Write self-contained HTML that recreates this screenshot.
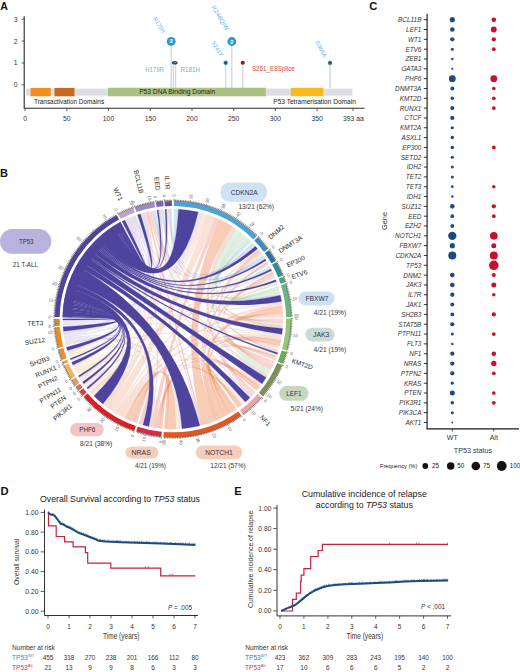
<!DOCTYPE html>
<html><head><meta charset="utf-8"><style>
html,body{margin:0;padding:0;background:#fff;}
svg{display:block;}
text{font-family:"Liberation Sans",sans-serif;}
</style></head><body>
<svg width="520" height="672" viewBox="0 0 520 672">
<text x="0.2" y="9.9" font-size="10.6" font-weight="bold" fill="#111">A</text>
<path d="M24.2 16.2 V108.3 H364.5" fill="none" stroke="#2a2a2a" stroke-width="1.1"/>
<line x1="21.6" y1="19.2" x2="24.2" y2="19.2" stroke="#333" stroke-width="0.8"/>
<text x="17.6" y="21.599999999999998" font-size="6.8" fill="#333" text-anchor="end">3</text>
<line x1="21.6" y1="41.1" x2="24.2" y2="41.1" stroke="#333" stroke-width="0.8"/>
<text x="17.6" y="43.5" font-size="6.8" fill="#333" text-anchor="end">2</text>
<line x1="21.6" y1="63.0" x2="24.2" y2="63.0" stroke="#333" stroke-width="0.8"/>
<text x="17.6" y="65.4" font-size="6.8" fill="#333" text-anchor="end">1</text>
<line x1="21.6" y1="84.8" x2="24.2" y2="84.8" stroke="#333" stroke-width="0.8"/>
<text x="17.6" y="87.2" font-size="6.8" fill="#333" text-anchor="end">0</text>
<line x1="25.1" y1="108.3" x2="25.1" y2="111" stroke="#333" stroke-width="0.8"/>
<text x="25.1" y="120.5" font-size="6.8" fill="#333" text-anchor="middle">0</text>
<line x1="66.8" y1="108.3" x2="66.8" y2="111" stroke="#333" stroke-width="0.8"/>
<text x="66.8" y="120.5" font-size="6.8" fill="#333" text-anchor="middle">50</text>
<line x1="108.5" y1="108.3" x2="108.5" y2="111" stroke="#333" stroke-width="0.8"/>
<text x="108.5" y="120.5" font-size="6.8" fill="#333" text-anchor="middle">100</text>
<line x1="150.3" y1="108.3" x2="150.3" y2="111" stroke="#333" stroke-width="0.8"/>
<text x="150.3" y="120.5" font-size="6.8" fill="#333" text-anchor="middle">150</text>
<line x1="192.0" y1="108.3" x2="192.0" y2="111" stroke="#333" stroke-width="0.8"/>
<text x="192.0" y="120.5" font-size="6.8" fill="#333" text-anchor="middle">200</text>
<line x1="233.7" y1="108.3" x2="233.7" y2="111" stroke="#333" stroke-width="0.8"/>
<text x="233.7" y="120.5" font-size="6.8" fill="#333" text-anchor="middle">250</text>
<line x1="275.4" y1="108.3" x2="275.4" y2="111" stroke="#333" stroke-width="0.8"/>
<text x="275.4" y="120.5" font-size="6.8" fill="#333" text-anchor="middle">300</text>
<line x1="317.1" y1="108.3" x2="317.1" y2="111" stroke="#333" stroke-width="0.8"/>
<text x="317.1" y="120.5" font-size="6.8" fill="#333" text-anchor="middle">350</text>
<line x1="353.0" y1="108.3" x2="353.0" y2="111" stroke="#333" stroke-width="0.8"/>
<text x="343.0" y="120.5" font-size="6.8" fill="#333">393 aa</text>
<line x1="171.2" y1="45" x2="171.2" y2="88" stroke="#d4d4dc" stroke-width="1.3"/>
<line x1="173.4" y1="64" x2="173.4" y2="88" stroke="#d4d4dc" stroke-width="1.3"/>
<line x1="175.6" y1="64" x2="175.6" y2="88" stroke="#d4d4dc" stroke-width="1.3"/>
<line x1="225.7" y1="64" x2="225.7" y2="88" stroke="#d4d4dc" stroke-width="1.3"/>
<line x1="231.8" y1="45" x2="231.8" y2="88" stroke="#d4d4dc" stroke-width="1.3"/>
<line x1="242.75" y1="64" x2="242.75" y2="88" stroke="#d4d4dc" stroke-width="1.3"/>
<line x1="330" y1="64" x2="330" y2="88" stroke="#d4d4dc" stroke-width="1.3"/>
<rect x="26" y="88.6" width="326.5" height="7" fill="#dddde3"/>
<rect x="30.6" y="87.9" width="20.1" height="8.4" fill="#f28e1c"/>
<rect x="54.5" y="87.9" width="20" height="8.4" fill="#c8681e"/>
<rect x="108" y="87.7" width="157.8" height="8.6" fill="#a9c282"/>
<rect x="290.8" y="87.8" width="32.5" height="8.4" fill="#f7b91e"/>
<text x="139.2" y="94.0" font-size="6.65" fill="#222">P53 DNA Binding Domain</text>
<text x="34" y="104.3" font-size="6.4" fill="#222">Transactivation Domains</text>
<text x="273.3" y="104.3" font-size="6.55" fill="#222">P53 Tetramerisation Domain</text>
<circle cx="171.2" cy="41.4" r="4.4" fill="#2196d0"/>
<circle cx="170.79999999999998" cy="41.0" r="2.6" fill="#3aa8dc" opacity="0.7"/>
<text x="171.2" y="43.4" font-size="5.6" fill="#fff" text-anchor="middle" font-weight="bold">2</text>
<circle cx="231.8" cy="41.5" r="4.4" fill="#2196d0"/>
<circle cx="231.4" cy="41.1" r="2.6" fill="#3aa8dc" opacity="0.7"/>
<text x="231.8" y="43.5" font-size="5.6" fill="#fff" text-anchor="middle" font-weight="bold">2</text>
<ellipse cx="174.8" cy="62.8" rx="2.9" ry="1.8" fill="#22506e"/>
<ellipse cx="175.2" cy="62.6" rx="1.2" ry="0.7" fill="#5c8fb0"/>
<circle cx="225.7" cy="62.8" r="2.1" fill="#2a5672" stroke="#7fbde0" stroke-width="0.5"/>
<circle cx="242.75" cy="62.75" r="2.1" fill="#8a1c1e"/>
<circle cx="330" cy="62.9" r="2.1" fill="#2a5672" stroke="#7fbde0" stroke-width="0.5"/>
<text x="145.25" y="71.6" font-size="6.5" fill="#66b8dc" textLength="18.5" lengthAdjust="spacingAndGlyphs">H179R</text>
<text x="180.6" y="71.6" font-size="6.5" fill="#80acd0" textLength="19.4" lengthAdjust="spacingAndGlyphs">R181H</text>
<text x="251.9" y="70.6" font-size="6.6" fill="#dc4646" textLength="42.9" lengthAdjust="spacingAndGlyphs">S261_E8Splice</text>
<text transform="translate(152.7,18.7) rotate(57)" font-size="5.8" fill="#5ab0de" textLength="17.5" lengthAdjust="spacingAndGlyphs">R175H</text>
<text transform="translate(211.3,7.0) rotate(59)" font-size="5.8" fill="#5ab0de" textLength="28" lengthAdjust="spacingAndGlyphs">R248Q/W</text>
<text transform="translate(211.3,42.8) rotate(57)" font-size="5.8" fill="#5ab0de" textLength="16.8" lengthAdjust="spacingAndGlyphs">S241Y</text>
<text transform="translate(315,42) rotate(61)" font-size="5.8" fill="#5ab0de" textLength="18" lengthAdjust="spacingAndGlyphs">S366A</text>
<text x="369.3" y="10.1" font-size="11.2" font-weight="bold" fill="#111">C</text>
<line x1="427.1" y1="13.8" x2="427.1" y2="429" stroke="#111" stroke-width="1.1"/>
<line x1="426.4" y1="428.8" x2="519" y2="428.8" stroke="#1a1a1a" stroke-width="1.2"/>
<line x1="452.3" y1="428.7" x2="452.3" y2="431.5" stroke="#222" stroke-width="0.8"/>
<line x1="493.8" y1="428.7" x2="493.8" y2="431.5" stroke="#222" stroke-width="0.8"/>
<line x1="423.8" y1="19.70" x2="427" y2="19.70" stroke="#1a1a1a" stroke-width="0.9"/>
<text x="421.4" y="22.10" font-size="6.4" font-style="italic" fill="#333" text-anchor="end">BCL11B</text>
<circle cx="452.3" cy="19.70" r="2.60" fill="#1d4a85"/>
<circle cx="493.8" cy="19.70" r="2.30" fill="#c8102e"/>
<line x1="423.8" y1="29.52" x2="427" y2="29.52" stroke="#1a1a1a" stroke-width="0.9"/>
<text x="421.4" y="31.92" font-size="6.4" font-style="italic" fill="#333" text-anchor="end">LEF1</text>
<circle cx="452.3" cy="29.52" r="2.30" fill="#1d4a85"/>
<circle cx="493.8" cy="29.52" r="2.90" fill="#c8102e"/>
<line x1="423.8" y1="39.35" x2="427" y2="39.35" stroke="#1a1a1a" stroke-width="0.9"/>
<text x="421.4" y="41.75" font-size="6.4" font-style="italic" fill="#333" text-anchor="end">WT1</text>
<circle cx="452.3" cy="39.35" r="2.15" fill="#1d4a85"/>
<circle cx="493.8" cy="39.35" r="2.15" fill="#c8102e"/>
<line x1="423.8" y1="49.17" x2="427" y2="49.17" stroke="#1a1a1a" stroke-width="0.9"/>
<text x="421.4" y="51.57" font-size="6.4" font-style="italic" fill="#333" text-anchor="end">ETV6</text>
<circle cx="452.3" cy="49.17" r="1.50" fill="#1d4a85"/>
<circle cx="493.8" cy="49.17" r="1.85" fill="#c8102e"/>
<line x1="423.8" y1="59.00" x2="427" y2="59.00" stroke="#1a1a1a" stroke-width="0.9"/>
<text x="421.4" y="61.40" font-size="6.4" font-style="italic" fill="#333" text-anchor="end">ZEB1</text>
<circle cx="452.3" cy="59.00" r="1.25" fill="#1d4a85"/>
<line x1="423.8" y1="68.82" x2="427" y2="68.82" stroke="#1a1a1a" stroke-width="0.9"/>
<text x="421.4" y="71.22" font-size="6.4" font-style="italic" fill="#333" text-anchor="end">GATA3</text>
<circle cx="452.3" cy="68.82" r="1.10" fill="#1d4a85"/>
<line x1="423.8" y1="78.64" x2="427" y2="78.64" stroke="#1a1a1a" stroke-width="0.9"/>
<text x="421.4" y="81.04" font-size="6.4" font-style="italic" fill="#333" text-anchor="end">PHF6</text>
<circle cx="452.3" cy="78.64" r="3.40" fill="#1d4a85"/>
<circle cx="493.8" cy="78.64" r="3.40" fill="#c8102e"/>
<line x1="423.8" y1="88.47" x2="427" y2="88.47" stroke="#1a1a1a" stroke-width="0.9"/>
<text x="421.4" y="90.87" font-size="6.4" font-style="italic" fill="#333" text-anchor="end">DNMT3A</text>
<circle cx="452.3" cy="88.47" r="1.95" fill="#1d4a85"/>
<circle cx="493.8" cy="88.47" r="1.80" fill="#c8102e"/>
<line x1="423.8" y1="98.29" x2="427" y2="98.29" stroke="#1a1a1a" stroke-width="0.9"/>
<text x="421.4" y="100.69" font-size="6.4" font-style="italic" fill="#333" text-anchor="end">KMT2D</text>
<circle cx="452.3" cy="98.29" r="1.80" fill="#1d4a85"/>
<circle cx="493.8" cy="98.29" r="1.85" fill="#c8102e"/>
<line x1="423.8" y1="108.12" x2="427" y2="108.12" stroke="#1a1a1a" stroke-width="0.9"/>
<text x="421.4" y="110.52" font-size="6.4" font-style="italic" fill="#333" text-anchor="end">RUNX1</text>
<circle cx="452.3" cy="108.12" r="2.10" fill="#1d4a85"/>
<circle cx="493.8" cy="108.12" r="1.90" fill="#c8102e"/>
<line x1="423.8" y1="117.94" x2="427" y2="117.94" stroke="#1a1a1a" stroke-width="0.9"/>
<text x="421.4" y="120.34" font-size="6.4" font-style="italic" fill="#333" text-anchor="end">CTCF</text>
<circle cx="452.3" cy="117.94" r="2.10" fill="#1d4a85"/>
<line x1="423.8" y1="127.76" x2="427" y2="127.76" stroke="#1a1a1a" stroke-width="0.9"/>
<text x="421.4" y="130.16" font-size="6.4" font-style="italic" fill="#333" text-anchor="end">KMT2A</text>
<circle cx="452.3" cy="127.76" r="1.60" fill="#1d4a85"/>
<line x1="423.8" y1="137.59" x2="427" y2="137.59" stroke="#1a1a1a" stroke-width="0.9"/>
<text x="421.4" y="139.99" font-size="6.4" font-style="italic" fill="#333" text-anchor="end">ASXL1</text>
<circle cx="452.3" cy="137.59" r="1.75" fill="#1d4a85"/>
<line x1="423.8" y1="147.41" x2="427" y2="147.41" stroke="#1a1a1a" stroke-width="0.9"/>
<text x="421.4" y="149.81" font-size="6.4" font-style="italic" fill="#333" text-anchor="end">EP300</text>
<circle cx="452.3" cy="147.41" r="1.75" fill="#1d4a85"/>
<circle cx="493.8" cy="147.41" r="1.85" fill="#c8102e"/>
<line x1="423.8" y1="157.24" x2="427" y2="157.24" stroke="#1a1a1a" stroke-width="0.9"/>
<text x="421.4" y="159.64" font-size="6.4" font-style="italic" fill="#333" text-anchor="end">SETD2</text>
<circle cx="452.3" cy="157.24" r="1.60" fill="#1d4a85"/>
<line x1="423.8" y1="167.06" x2="427" y2="167.06" stroke="#1a1a1a" stroke-width="0.9"/>
<text x="421.4" y="169.46" font-size="6.4" font-style="italic" fill="#333" text-anchor="end">IDH2</text>
<circle cx="452.3" cy="167.06" r="1.50" fill="#1d4a85"/>
<line x1="423.8" y1="176.88" x2="427" y2="176.88" stroke="#1a1a1a" stroke-width="0.9"/>
<text x="421.4" y="179.28" font-size="6.4" font-style="italic" fill="#333" text-anchor="end">TET2</text>
<circle cx="452.3" cy="176.88" r="1.50" fill="#1d4a85"/>
<line x1="423.8" y1="186.71" x2="427" y2="186.71" stroke="#1a1a1a" stroke-width="0.9"/>
<text x="421.4" y="189.11" font-size="6.4" font-style="italic" fill="#333" text-anchor="end">TET3</text>
<circle cx="452.3" cy="186.71" r="1.35" fill="#1d4a85"/>
<circle cx="493.8" cy="186.71" r="1.75" fill="#c8102e"/>
<line x1="423.8" y1="196.53" x2="427" y2="196.53" stroke="#1a1a1a" stroke-width="0.9"/>
<text x="421.4" y="198.93" font-size="6.4" font-style="italic" fill="#333" text-anchor="end">IDH1</text>
<circle cx="452.3" cy="196.53" r="1.25" fill="#1d4a85"/>
<line x1="423.8" y1="206.36" x2="427" y2="206.36" stroke="#1a1a1a" stroke-width="0.9"/>
<text x="421.4" y="208.76" font-size="6.4" font-style="italic" fill="#333" text-anchor="end">SUZ12</text>
<circle cx="452.3" cy="206.36" r="2.30" fill="#1d4a85"/>
<circle cx="493.8" cy="206.36" r="2.15" fill="#c8102e"/>
<line x1="423.8" y1="216.18" x2="427" y2="216.18" stroke="#1a1a1a" stroke-width="0.9"/>
<text x="421.4" y="218.58" font-size="6.4" font-style="italic" fill="#333" text-anchor="end">EED</text>
<circle cx="452.3" cy="216.18" r="1.85" fill="#1d4a85"/>
<circle cx="493.8" cy="216.18" r="1.85" fill="#c8102e"/>
<line x1="423.8" y1="226.00" x2="427" y2="226.00" stroke="#1a1a1a" stroke-width="0.9"/>
<text x="421.4" y="228.40" font-size="6.4" font-style="italic" fill="#333" text-anchor="end">EZH2</text>
<circle cx="452.3" cy="226.00" r="1.90" fill="#1d4a85"/>
<line x1="423.8" y1="235.83" x2="427" y2="235.83" stroke="#1a1a1a" stroke-width="0.9"/>
<text x="421.4" y="238.23" font-size="6.4" font-style="italic" fill="#333" text-anchor="end">NOTCH1</text>
<circle cx="452.3" cy="235.83" r="4.15" fill="#1d4a85"/>
<circle cx="493.8" cy="235.83" r="3.85" fill="#c8102e"/>
<line x1="423.8" y1="245.65" x2="427" y2="245.65" stroke="#1a1a1a" stroke-width="0.9"/>
<text x="421.4" y="248.05" font-size="6.4" font-style="italic" fill="#333" text-anchor="end">FBXW7</text>
<circle cx="452.3" cy="245.65" r="2.60" fill="#1d4a85"/>
<circle cx="493.8" cy="245.65" r="2.50" fill="#c8102e"/>
<line x1="423.8" y1="255.48" x2="427" y2="255.48" stroke="#1a1a1a" stroke-width="0.9"/>
<text x="421.4" y="257.88" font-size="6.4" font-style="italic" fill="#333" text-anchor="end">CDKN2A</text>
<circle cx="452.3" cy="255.48" r="4.00" fill="#1d4a85"/>
<circle cx="493.8" cy="255.48" r="4.00" fill="#c8102e"/>
<line x1="423.8" y1="265.30" x2="427" y2="265.30" stroke="#1a1a1a" stroke-width="0.9"/>
<text x="421.4" y="267.70" font-size="6.4" font-style="italic" fill="#333" text-anchor="end">TP53</text>
<circle cx="493.8" cy="265.30" r="4.75" fill="#c8102e"/>
<line x1="423.8" y1="275.12" x2="427" y2="275.12" stroke="#1a1a1a" stroke-width="0.9"/>
<text x="421.4" y="277.52" font-size="6.4" font-style="italic" fill="#333" text-anchor="end">DNM2</text>
<circle cx="452.3" cy="275.12" r="2.30" fill="#1d4a85"/>
<circle cx="493.8" cy="275.12" r="2.00" fill="#c8102e"/>
<line x1="423.8" y1="284.95" x2="427" y2="284.95" stroke="#1a1a1a" stroke-width="0.9"/>
<text x="421.4" y="287.35" font-size="6.4" font-style="italic" fill="#333" text-anchor="end">JAK3</text>
<circle cx="452.3" cy="284.95" r="2.30" fill="#1d4a85"/>
<circle cx="493.8" cy="284.95" r="2.50" fill="#c8102e"/>
<line x1="423.8" y1="294.77" x2="427" y2="294.77" stroke="#1a1a1a" stroke-width="0.9"/>
<text x="421.4" y="297.17" font-size="6.4" font-style="italic" fill="#333" text-anchor="end">IL7R</text>
<circle cx="452.3" cy="294.77" r="2.15" fill="#1d4a85"/>
<circle cx="493.8" cy="294.77" r="1.75" fill="#c8102e"/>
<line x1="423.8" y1="304.60" x2="427" y2="304.60" stroke="#1a1a1a" stroke-width="0.9"/>
<text x="421.4" y="307.00" font-size="6.4" font-style="italic" fill="#333" text-anchor="end">JAK1</text>
<circle cx="452.3" cy="304.60" r="2.00" fill="#1d4a85"/>
<line x1="423.8" y1="314.42" x2="427" y2="314.42" stroke="#1a1a1a" stroke-width="0.9"/>
<text x="421.4" y="316.82" font-size="6.4" font-style="italic" fill="#333" text-anchor="end">SH2B3</text>
<circle cx="452.3" cy="314.42" r="1.90" fill="#1d4a85"/>
<circle cx="493.8" cy="314.42" r="2.15" fill="#c8102e"/>
<line x1="423.8" y1="324.24" x2="427" y2="324.24" stroke="#1a1a1a" stroke-width="0.9"/>
<text x="421.4" y="326.64" font-size="6.4" font-style="italic" fill="#333" text-anchor="end">STAT5B</text>
<circle cx="452.3" cy="324.24" r="2.10" fill="#1d4a85"/>
<line x1="423.8" y1="334.07" x2="427" y2="334.07" stroke="#1a1a1a" stroke-width="0.9"/>
<text x="421.4" y="336.47" font-size="6.4" font-style="italic" fill="#333" text-anchor="end">PTPN11</text>
<circle cx="452.3" cy="334.07" r="1.50" fill="#1d4a85"/>
<circle cx="493.8" cy="334.07" r="1.90" fill="#c8102e"/>
<line x1="423.8" y1="343.89" x2="427" y2="343.89" stroke="#1a1a1a" stroke-width="0.9"/>
<text x="421.4" y="346.29" font-size="6.4" font-style="italic" fill="#333" text-anchor="end">FLT3</text>
<circle cx="452.3" cy="343.89" r="1.25" fill="#1d4a85"/>
<line x1="423.8" y1="353.72" x2="427" y2="353.72" stroke="#1a1a1a" stroke-width="0.9"/>
<text x="421.4" y="356.12" font-size="6.4" font-style="italic" fill="#333" text-anchor="end">NF1</text>
<circle cx="452.3" cy="353.72" r="2.15" fill="#1d4a85"/>
<circle cx="493.8" cy="353.72" r="2.30" fill="#c8102e"/>
<line x1="423.8" y1="363.54" x2="427" y2="363.54" stroke="#1a1a1a" stroke-width="0.9"/>
<text x="421.4" y="365.94" font-size="6.4" font-style="italic" fill="#333" text-anchor="end">NRAS</text>
<circle cx="452.3" cy="363.54" r="2.15" fill="#1d4a85"/>
<circle cx="493.8" cy="363.54" r="2.70" fill="#c8102e"/>
<line x1="423.8" y1="373.36" x2="427" y2="373.36" stroke="#1a1a1a" stroke-width="0.9"/>
<text x="421.4" y="375.76" font-size="6.4" font-style="italic" fill="#333" text-anchor="end">PTPN2</text>
<circle cx="452.3" cy="373.36" r="2.15" fill="#1d4a85"/>
<circle cx="493.8" cy="373.36" r="1.85" fill="#c8102e"/>
<line x1="423.8" y1="383.19" x2="427" y2="383.19" stroke="#1a1a1a" stroke-width="0.9"/>
<text x="421.4" y="385.59" font-size="6.4" font-style="italic" fill="#333" text-anchor="end">KRAS</text>
<circle cx="452.3" cy="383.19" r="1.60" fill="#1d4a85"/>
<line x1="423.8" y1="393.01" x2="427" y2="393.01" stroke="#1a1a1a" stroke-width="0.9"/>
<text x="421.4" y="395.41" font-size="6.4" font-style="italic" fill="#333" text-anchor="end">PTEN</text>
<circle cx="452.3" cy="393.01" r="2.50" fill="#1d4a85"/>
<circle cx="493.8" cy="393.01" r="1.85" fill="#c8102e"/>
<line x1="423.8" y1="402.84" x2="427" y2="402.84" stroke="#1a1a1a" stroke-width="0.9"/>
<text x="421.4" y="405.24" font-size="6.4" font-style="italic" fill="#333" text-anchor="end">PIK3R1</text>
<circle cx="452.3" cy="402.84" r="1.75" fill="#1d4a85"/>
<circle cx="493.8" cy="402.84" r="1.90" fill="#c8102e"/>
<line x1="423.8" y1="412.66" x2="427" y2="412.66" stroke="#1a1a1a" stroke-width="0.9"/>
<text x="421.4" y="415.06" font-size="6.4" font-style="italic" fill="#333" text-anchor="end">PIK3CA</text>
<circle cx="452.3" cy="412.66" r="1.50" fill="#1d4a85"/>
<line x1="423.8" y1="422.48" x2="427" y2="422.48" stroke="#1a1a1a" stroke-width="0.9"/>
<text x="421.4" y="424.88" font-size="6.4" font-style="italic" fill="#333" text-anchor="end">AKT1</text>
<circle cx="452.3" cy="422.48" r="0.90" fill="#1d4a85"/>
<text x="452.3" y="440" font-size="7" fill="#333" text-anchor="middle">WT</text>
<text x="493.8" y="440" font-size="7" fill="#333" text-anchor="middle">Alt</text>
<text x="473" y="452.5" font-size="7.2" fill="#333" text-anchor="middle">TP53 status</text>
<text transform="translate(387,221) rotate(-90)" font-size="7.4" fill="#333" text-anchor="middle">Gene</text>
<text x="380" y="468.3" font-size="5.7" fill="#222">Frequency (%)</text>
<circle cx="425.3" cy="466" r="2.9" fill="#111"/>
<text x="432" y="468.3" font-size="6.3" fill="#222">25</text>
<circle cx="450.7" cy="466" r="3.75" fill="#111"/>
<text x="457.3" y="468.3" font-size="6.3" fill="#222">50</text>
<circle cx="475.8" cy="466" r="4.3" fill="#111"/>
<text x="483" y="468.3" font-size="6.3" fill="#222">75</text>
<circle cx="501.7" cy="466" r="4.9" fill="#111"/>
<text x="509.8" y="468.3" font-size="6.3" fill="#222">100</text>
<text x="0" y="176.9" font-size="11" font-weight="bold" fill="#111">B</text>
<path d="M219.95,219.56A110.1,110.1 0 0 1 232.06,226.24Q172.90,319.10 215.53,420.61A110.1,110.1 0 0 1 202.77,425.07Q172.90,319.10 219.95,219.56Z" fill="#e8743a" fill-opacity="0.36" stroke="#e8743a" stroke-opacity="0.22" stroke-width="0.3"/>
<path d="M176.09,429.15A110.1,110.1 0 0 1 167.07,429.05Q172.90,319.10 134.04,422.11A110.1,110.1 0 0 1 125.72,418.58Q172.90,319.10 176.09,429.15Z" fill="#e8743a" fill-opacity="0.36" stroke="#e8743a" stroke-opacity="0.22" stroke-width="0.3"/>
<path d="M282.24,306.18A110.1,110.1 0 0 1 282.80,312.46Q172.90,319.10 225.03,416.08A110.1,110.1 0 0 1 219.66,418.78Q172.90,319.10 282.24,306.18Z" fill="#e8743a" fill-opacity="0.36" stroke="#e8743a" stroke-opacity="0.22" stroke-width="0.3"/>
<path d="M280.73,341.36A110.1,110.1 0 0 1 279.77,345.56Q172.90,319.10 228.96,413.86A110.1,110.1 0 0 1 225.03,416.08Q172.90,319.10 280.73,341.36Z" fill="#e8743a" fill-opacity="0.36" stroke="#e8743a" stroke-opacity="0.22" stroke-width="0.3"/>
<path d="M259.33,387.30A110.1,110.1 0 0 1 256.50,390.75Q172.90,319.10 234.04,410.66A110.1,110.1 0 0 1 230.24,413.09Q172.90,319.10 259.33,387.30Z" fill="#e8743a" fill-opacity="0.36" stroke="#e8743a" stroke-opacity="0.22" stroke-width="0.3"/>
<path d="M240.57,405.95A110.1,110.1 0 0 1 238.08,407.83Q172.90,319.10 236.52,408.96A110.1,110.1 0 0 1 234.04,410.66Q172.90,319.10 240.57,405.95Z" fill="#e8743a" fill-opacity="0.36" stroke="#e8743a" stroke-opacity="0.22" stroke-width="0.3"/>
<path d="M167.07,429.05A110.1,110.1 0 0 1 164.07,428.85Q172.90,319.10 162.16,428.67A110.1,110.1 0 0 1 159.17,428.34Q172.90,319.10 167.07,429.05Z" fill="#e8743a" fill-opacity="0.36" stroke="#e8743a" stroke-opacity="0.22" stroke-width="0.3"/>
<path d="M182.09,428.82A110.1,110.1 0 0 1 179.09,429.03Q172.90,319.10 65.39,342.86A110.1,110.1 0 0 1 64.79,339.96Q172.90,319.10 182.09,428.82Z" fill="#c4b4dc" fill-opacity="0.3" stroke="#c4b4dc" stroke-opacity="0.22" stroke-width="0.3"/>
<path d="M177.59,429.10A110.1,110.1 0 0 1 176.09,429.15Q172.90,319.10 77.07,373.32A110.1,110.1 0 0 1 76.33,371.97Q172.90,319.10 177.59,429.10Z" fill="#f0c070" fill-opacity="0.22" stroke="#f0c070" stroke-opacity="0.22" stroke-width="0.3"/>
<path d="M179.09,429.03A110.1,110.1 0 0 1 177.59,429.10Q172.90,319.10 69.57,357.12A110.1,110.1 0 0 1 68.99,355.49Q172.90,319.10 179.09,429.03Z" fill="#f0b070" fill-opacity="0.22" stroke="#f0b070" stroke-opacity="0.22" stroke-width="0.3"/>
<path d="M258.54,249.91A110.1,110.1 0 0 1 259.55,251.18Q172.90,319.10 216.92,420.02A110.1,110.1 0 0 1 215.53,420.61Q172.90,319.10 258.54,249.91Z" fill="#e8743a" fill-opacity="0.36" stroke="#e8743a" stroke-opacity="0.22" stroke-width="0.3"/>
<path d="M272.48,272.13A110.1,110.1 0 0 1 273.20,273.68Q172.90,319.10 219.66,418.78A110.1,110.1 0 0 1 218.29,419.41Q172.90,319.10 272.48,272.13Z" fill="#e8743a" fill-opacity="0.36" stroke="#e8743a" stroke-opacity="0.22" stroke-width="0.3"/>
<path d="M267.00,261.95A110.1,110.1 0 0 1 267.88,263.41Q172.90,319.10 218.29,419.41A110.1,110.1 0 0 1 216.92,420.02Q172.90,319.10 267.00,261.95Z" fill="#e8743a" fill-opacity="0.36" stroke="#e8743a" stroke-opacity="0.22" stroke-width="0.3"/>
<path d="M276.67,355.90A110.1,110.1 0 0 1 276.10,357.45Q172.90,319.10 230.24,413.09A110.1,110.1 0 0 1 228.96,413.86Q172.90,319.10 276.67,355.90Z" fill="#e8743a" fill-opacity="0.36" stroke="#e8743a" stroke-opacity="0.22" stroke-width="0.3"/>
<path d="M202.77,425.07A110.1,110.1 0 0 1 201.32,425.47Q172.90,319.10 146.45,212.22A110.1,110.1 0 0 1 147.98,211.86Q172.90,319.10 202.77,425.07Z" fill="#e8743a" fill-opacity="0.36" stroke="#e8743a" stroke-opacity="0.22" stroke-width="0.3"/>
<path d="M201.32,425.47A110.1,110.1 0 0 1 199.86,425.85Q172.90,319.10 130.31,217.57A110.1,110.1 0 0 1 131.71,217.00Q172.90,319.10 201.32,425.47Z" fill="#b8a6d6" fill-opacity="0.32" stroke="#b8a6d6" stroke-opacity="0.22" stroke-width="0.3"/>
<path d="M173.86,209.00A110.1,110.1 0 0 1 175.40,209.03Q172.90,319.10 170.56,209.02A110.1,110.1 0 0 1 171.94,209.00Q172.90,319.10 173.86,209.00Z" fill="#7aa8d8" fill-opacity="0.26" stroke="#7aa8d8" stroke-opacity="0.22" stroke-width="0.3"/>
<path d="M175.40,209.03A110.1,110.1 0 0 1 176.93,209.07Q172.90,319.10 162.50,209.49A110.1,110.1 0 0 1 163.88,209.37Q172.90,319.10 175.40,209.03Z" fill="#7aa8d8" fill-opacity="0.26" stroke="#7aa8d8" stroke-opacity="0.22" stroke-width="0.3"/>
<path d="M176.93,209.07A110.1,110.1 0 0 1 178.47,209.14Q172.90,319.10 154.13,210.61A110.1,110.1 0 0 1 155.68,210.36Q172.90,319.10 176.93,209.07Z" fill="#7aa8d8" fill-opacity="0.26" stroke="#7aa8d8" stroke-opacity="0.22" stroke-width="0.3"/>
<path d="M198.23,211.95A110.1,110.1 0 0 1 199.72,212.32Q172.90,319.10 62.83,321.48A110.1,110.1 0 0 1 62.80,320.10Q172.90,319.10 198.23,211.95Z" fill="#c4b4dc" fill-opacity="0.3" stroke="#c4b4dc" stroke-opacity="0.22" stroke-width="0.3"/>
<path d="M199.72,212.32A110.1,110.1 0 0 1 202.69,213.11Q172.90,319.10 64.27,337.05A110.1,110.1 0 0 1 63.83,334.13Q172.90,319.10 199.72,212.32Z" fill="#c4b4dc" fill-opacity="0.3" stroke="#c4b4dc" stroke-opacity="0.22" stroke-width="0.3"/>
<path d="M202.69,213.11A110.1,110.1 0 0 1 204.17,213.53Q172.90,319.10 68.43,353.85A110.1,110.1 0 0 1 67.90,352.21Q172.90,319.10 202.69,213.11Z" fill="#f0b070" fill-opacity="0.22" stroke="#f0b070" stroke-opacity="0.22" stroke-width="0.3"/>
<path d="M204.17,213.53A110.1,110.1 0 0 1 205.64,213.98Q172.90,319.10 74.20,367.88A110.1,110.1 0 0 1 73.53,366.50Q172.90,319.10 204.17,213.53Z" fill="#f0c070" fill-opacity="0.22" stroke="#f0c070" stroke-opacity="0.22" stroke-width="0.3"/>
<path d="M205.64,213.98A110.1,110.1 0 0 1 207.11,214.45Q172.90,319.10 80.96,379.67A110.1,110.1 0 0 1 80.09,378.34Q172.90,319.10 205.64,213.98Z" fill="#eeb080" fill-opacity="0.24" stroke="#eeb080" stroke-opacity="0.22" stroke-width="0.3"/>
<path d="M207.11,214.45A110.1,110.1 0 0 1 215.74,217.68Q172.90,319.10 115.13,412.83A110.1,110.1 0 0 1 107.64,407.77Q172.90,319.10 207.11,214.45Z" fill="#ec8c64" fill-opacity="0.25" stroke="#ec8c64" stroke-opacity="0.22" stroke-width="0.3"/>
<path d="M215.74,217.68A110.1,110.1 0 0 1 219.95,219.56Q172.90,319.10 154.72,427.69A110.1,110.1 0 0 1 150.29,426.85Q172.90,319.10 215.74,217.68Z" fill="#e8705a" fill-opacity="0.3" stroke="#e8705a" stroke-opacity="0.22" stroke-width="0.3"/>
<path d="M232.06,226.24A110.1,110.1 0 0 1 235.89,228.80Q172.90,319.10 254.32,393.22A110.1,110.1 0 0 1 251.09,396.62Q172.90,319.10 232.06,226.24Z" fill="#e88a80" fill-opacity="0.3" stroke="#e88a80" stroke-opacity="0.22" stroke-width="0.3"/>
<path d="M235.89,228.80A110.1,110.1 0 0 1 240.84,232.46Q172.90,319.10 270.61,369.84A110.1,110.1 0 0 1 267.73,375.04Q172.90,319.10 235.89,228.80Z" fill="#9ccc9c" fill-opacity="0.3" stroke="#9ccc9c" stroke-opacity="0.22" stroke-width="0.3"/>
<path d="M240.84,232.46A110.1,110.1 0 0 1 242.04,233.42Q172.90,319.10 278.21,351.21A110.1,110.1 0 0 1 277.72,352.78Q172.90,319.10 240.84,232.46Z" fill="#9ccc9c" fill-opacity="0.3" stroke="#9ccc9c" stroke-opacity="0.22" stroke-width="0.3"/>
<path d="M242.04,233.42A110.1,110.1 0 0 1 244.40,235.38Q172.90,319.10 282.94,322.83A110.1,110.1 0 0 1 282.80,325.70Q172.90,319.10 242.04,233.42Z" fill="#9ccc9c" fill-opacity="0.3" stroke="#9ccc9c" stroke-opacity="0.22" stroke-width="0.3"/>
<path d="M244.40,235.38A110.1,110.1 0 0 1 247.85,238.45Q172.90,319.10 278.86,289.20A110.1,110.1 0 0 1 280.05,293.77Q172.90,319.10 244.40,235.38Z" fill="#9ccc9c" fill-opacity="0.3" stroke="#9ccc9c" stroke-opacity="0.22" stroke-width="0.3"/>
<path d="M247.85,238.45A110.1,110.1 0 0 1 248.97,239.50Q172.90,319.10 270.19,267.56A110.1,110.1 0 0 1 270.98,269.07Q172.90,319.10 247.85,238.45Z" fill="#9ccc9c" fill-opacity="0.3" stroke="#9ccc9c" stroke-opacity="0.22" stroke-width="0.3"/>
<path d="M248.97,239.50A110.1,110.1 0 0 1 250.07,240.57Q172.90,319.10 262.31,254.85A110.1,110.1 0 0 1 263.29,256.24Q172.90,319.10 248.97,239.50Z" fill="#7aa8d8" fill-opacity="0.26" stroke="#7aa8d8" stroke-opacity="0.22" stroke-width="0.3"/>
<path d="M250.07,240.57A110.1,110.1 0 0 1 251.16,241.66Q172.90,319.10 252.10,242.62A110.1,110.1 0 0 1 253.22,243.79Q172.90,319.10 250.07,240.57Z" fill="#7aa8d8" fill-opacity="0.26" stroke="#7aa8d8" stroke-opacity="0.22" stroke-width="0.3"/>
<path d="M141.56,424.65A110.1,110.1 0 0 1 138.69,423.75Q172.90,319.10 136.87,423.14A110.1,110.1 0 0 1 134.04,422.11Q172.90,319.10 141.56,424.65Z" fill="#e8705a" fill-opacity="0.3" stroke="#e8705a" stroke-opacity="0.22" stroke-width="0.3"/>
<path d="M243.01,403.99A110.1,110.1 0 0 1 241.80,404.98Q172.90,319.10 125.72,418.58A110.1,110.1 0 0 1 124.36,417.92Q172.90,319.10 243.01,403.99Z" fill="#e88a80" fill-opacity="0.3" stroke="#e88a80" stroke-opacity="0.22" stroke-width="0.3"/>
<path d="M262.02,383.75A110.1,110.1 0 0 1 260.24,386.13Q172.90,319.10 124.36,417.92A110.1,110.1 0 0 1 121.68,416.56Q172.90,319.10 262.02,383.75Z" fill="#ec8c64" fill-opacity="0.25" stroke="#ec8c64" stroke-opacity="0.22" stroke-width="0.3"/>
<path d="M281.52,337.12A110.1,110.1 0 0 1 281.01,339.95Q172.90,319.10 121.68,416.56A110.1,110.1 0 0 1 119.03,415.12Q172.90,319.10 281.52,337.12Z" fill="#ec8c64" fill-opacity="0.25" stroke="#ec8c64" stroke-opacity="0.22" stroke-width="0.3"/>
<path d="M281.82,303.05A110.1,110.1 0 0 1 282.24,306.18Q172.90,319.10 119.03,415.12A110.1,110.1 0 0 1 116.42,413.61Q172.90,319.10 281.82,303.05Z" fill="#ec8c64" fill-opacity="0.25" stroke="#ec8c64" stroke-opacity="0.22" stroke-width="0.3"/>
<path d="M104.05,405.02A110.1,110.1 0 0 1 102.88,404.07Q172.90,319.10 127.52,218.79A110.1,110.1 0 0 1 128.91,218.17Q172.90,319.10 104.05,405.02Z" fill="#b8a6d6" fill-opacity="0.32" stroke="#b8a6d6" stroke-opacity="0.22" stroke-width="0.3"/>
<path d="M105.24,405.95A110.1,110.1 0 0 1 104.05,405.02Q172.90,319.10 144.93,212.61A110.1,110.1 0 0 1 146.45,212.22Q172.90,319.10 105.24,405.95Z" fill="#ec8c64" fill-opacity="0.25" stroke="#ec8c64" stroke-opacity="0.22" stroke-width="0.3"/>
<path d="M106.43,406.87A110.1,110.1 0 0 1 105.24,405.95Q172.90,319.10 159.75,209.79A110.1,110.1 0 0 1 161.12,209.63Q172.90,319.10 106.43,406.87Z" fill="#ec8c64" fill-opacity="0.25" stroke="#ec8c64" stroke-opacity="0.22" stroke-width="0.3"/>
<path d="M107.64,407.77A110.1,110.1 0 0 1 106.43,406.87Q172.90,319.10 166.41,209.19A110.1,110.1 0 0 1 167.79,209.12Q172.90,319.10 107.64,407.77Z" fill="#ec8c64" fill-opacity="0.25" stroke="#ec8c64" stroke-opacity="0.22" stroke-width="0.3"/>
<path d="M257.52,248.66A110.1,110.1 0 0 1 258.54,249.91Q172.90,319.10 116.42,413.61A110.1,110.1 0 0 1 115.13,412.83Q172.90,319.10 257.52,248.66Z" fill="#ec8c64" fill-opacity="0.25" stroke="#ec8c64" stroke-opacity="0.22" stroke-width="0.3"/>
<path d="M94.02,395.91A110.1,110.1 0 0 1 92.97,394.82Q172.90,319.10 66.07,345.74A110.1,110.1 0 0 1 65.72,344.30Q172.90,319.10 94.02,395.91Z" fill="#c4b4dc" fill-opacity="0.3" stroke="#c4b4dc" stroke-opacity="0.22" stroke-width="0.3"/>
<path d="M92.97,394.82A110.1,110.1 0 0 1 91.94,393.72Q172.90,319.10 77.84,374.65A110.1,110.1 0 0 1 77.07,373.32Q172.90,319.10 92.97,394.82Z" fill="#f0c070" fill-opacity="0.22" stroke="#f0c070" stroke-opacity="0.22" stroke-width="0.3"/>
<path d="M90.93,392.61A110.1,110.1 0 0 1 89.93,391.48Q172.90,319.10 88.93,390.31A110.1,110.1 0 0 1 87.86,389.03Q172.90,319.10 90.93,392.61Z" fill="#ec8c64" fill-opacity="0.25" stroke="#ec8c64" stroke-opacity="0.22" stroke-width="0.3"/>
<path d="M91.94,393.72A110.1,110.1 0 0 1 90.93,392.61Q172.90,319.10 85.09,385.51A110.1,110.1 0 0 1 83.77,383.74Q172.90,319.10 91.94,393.72Z" fill="#ec8c64" fill-opacity="0.25" stroke="#ec8c64" stroke-opacity="0.22" stroke-width="0.3"/>
<path d="M241.80,404.98A110.1,110.1 0 0 1 240.57,405.95Q172.90,319.10 159.17,428.34A110.1,110.1 0 0 1 157.68,428.14Q172.90,319.10 241.80,404.98Z" fill="#e8705a" fill-opacity="0.3" stroke="#e8705a" stroke-opacity="0.22" stroke-width="0.3"/>
<path d="M260.24,386.13A110.1,110.1 0 0 1 259.33,387.30Q172.90,319.10 157.68,428.14A110.1,110.1 0 0 1 156.20,427.93Q172.90,319.10 260.24,386.13Z" fill="#e8705a" fill-opacity="0.3" stroke="#e8705a" stroke-opacity="0.22" stroke-width="0.3"/>
<path d="M281.01,339.95A110.1,110.1 0 0 1 280.73,341.36Q172.90,319.10 156.20,427.93A110.1,110.1 0 0 1 154.72,427.69Q172.90,319.10 281.01,339.95Z" fill="#e8705a" fill-opacity="0.3" stroke="#e8705a" stroke-opacity="0.22" stroke-width="0.3"/>
<path d="M150.29,426.85A110.1,110.1 0 0 1 148.82,426.54Q172.90,319.10 128.91,218.17A110.1,110.1 0 0 1 130.31,217.57Q172.90,319.10 150.29,426.85Z" fill="#b8a6d6" fill-opacity="0.32" stroke="#b8a6d6" stroke-opacity="0.22" stroke-width="0.3"/>
<path d="M143.00,425.06A110.1,110.1 0 0 1 141.56,424.65Q172.90,319.10 65.72,344.30A110.1,110.1 0 0 1 65.39,342.86Q172.90,319.10 143.00,425.06Z" fill="#c4b4dc" fill-opacity="0.3" stroke="#c4b4dc" stroke-opacity="0.22" stroke-width="0.3"/>
<path d="M279.77,345.56A110.1,110.1 0 0 1 279.05,348.34Q172.90,319.10 273.81,363.13A110.1,110.1 0 0 1 272.59,365.84Q172.90,319.10 279.77,345.56Z" fill="#ea8a78" fill-opacity="0.3" stroke="#ea8a78" stroke-opacity="0.22" stroke-width="0.3"/>
<path d="M282.80,312.46A110.1,110.1 0 0 1 282.88,314.03Q172.90,319.10 272.59,365.84A110.1,110.1 0 0 1 271.94,367.18Q172.90,319.10 282.80,312.46Z" fill="#ea8a78" fill-opacity="0.3" stroke="#ea8a78" stroke-opacity="0.22" stroke-width="0.3"/>
<path d="M267.73,375.04A110.1,110.1 0 0 1 266.96,376.32Q172.90,319.10 147.98,211.86A110.1,110.1 0 0 1 149.51,211.51Q172.90,319.10 267.73,375.04Z" fill="#ea8a78" fill-opacity="0.3" stroke="#ea8a78" stroke-opacity="0.22" stroke-width="0.3"/>
<path d="M266.96,376.32A110.1,110.1 0 0 1 266.18,377.59Q172.90,319.10 133.12,216.44A110.1,110.1 0 0 1 134.54,215.90Q172.90,319.10 266.96,376.32Z" fill="#b8a6d6" fill-opacity="0.32" stroke="#b8a6d6" stroke-opacity="0.22" stroke-width="0.3"/>
<path d="M273.20,273.68A110.1,110.1 0 0 1 273.89,275.24Q172.90,319.10 271.94,367.18A110.1,110.1 0 0 1 271.29,368.52Q172.90,319.10 273.20,273.68Z" fill="#ea8a78" fill-opacity="0.3" stroke="#ea8a78" stroke-opacity="0.22" stroke-width="0.3"/>
<path d="M259.55,251.18A110.1,110.1 0 0 1 260.55,252.47Q172.90,319.10 271.29,368.52A110.1,110.1 0 0 1 270.61,369.84Q172.90,319.10 259.55,251.18Z" fill="#ea8a78" fill-opacity="0.3" stroke="#ea8a78" stroke-opacity="0.22" stroke-width="0.3"/>
<path d="M275.52,358.99A110.1,110.1 0 0 1 274.91,360.52Q172.90,319.10 274.40,361.77A110.1,110.1 0 0 1 273.81,363.13Q172.90,319.10 275.52,358.99Z" fill="#ea8a78" fill-opacity="0.3" stroke="#ea8a78" stroke-opacity="0.22" stroke-width="0.3"/>
<path d="M282.88,314.03A110.1,110.1 0 0 1 282.98,317.18Q172.90,319.10 283.00,318.52A110.1,110.1 0 0 1 282.98,321.40Q172.90,319.10 282.88,314.03Z" fill="#ea8a78" fill-opacity="0.3" stroke="#ea8a78" stroke-opacity="0.22" stroke-width="0.3"/>
<path d="M260.55,252.47A110.1,110.1 0 0 1 261.52,253.76Q172.90,319.10 282.98,321.40A110.1,110.1 0 0 1 282.94,322.83Q172.90,319.10 260.55,252.47Z" fill="#ea8a78" fill-opacity="0.3" stroke="#ea8a78" stroke-opacity="0.22" stroke-width="0.3"/>
<path d="M282.80,325.70A110.1,110.1 0 0 1 282.71,327.14Q172.90,319.10 167.79,209.12A110.1,110.1 0 0 1 169.17,209.06Q172.90,319.10 282.80,325.70Z" fill="#ea8a78" fill-opacity="0.3" stroke="#ea8a78" stroke-opacity="0.22" stroke-width="0.3"/>
<path d="M282.71,327.14A110.1,110.1 0 0 1 282.59,328.57Q172.90,319.10 149.51,211.51A110.1,110.1 0 0 1 151.04,211.19Q172.90,319.10 282.71,327.14Z" fill="#ea8a78" fill-opacity="0.3" stroke="#ea8a78" stroke-opacity="0.22" stroke-width="0.3"/>
<path d="M281.74,335.70A110.1,110.1 0 0 1 281.52,337.12Q172.90,319.10 68.99,355.49A110.1,110.1 0 0 1 68.43,353.85Q172.90,319.10 281.74,335.70Z" fill="#f0b070" fill-opacity="0.22" stroke="#f0b070" stroke-opacity="0.22" stroke-width="0.3"/>
<path d="M281.95,334.28A110.1,110.1 0 0 1 281.74,335.70Q172.90,319.10 62.92,324.25A110.1,110.1 0 0 1 62.86,322.87Q172.90,319.10 281.95,334.28Z" fill="#c4b4dc" fill-opacity="0.3" stroke="#c4b4dc" stroke-opacity="0.22" stroke-width="0.3"/>
<path d="M280.05,293.77A110.1,110.1 0 0 1 280.40,295.31Q172.90,319.10 151.04,211.19A110.1,110.1 0 0 1 152.58,210.89Q172.90,319.10 280.05,293.77Z" fill="#b0a4d8" fill-opacity="0.3" stroke="#b0a4d8" stroke-opacity="0.22" stroke-width="0.3"/>
<path d="M274.55,276.81A110.1,110.1 0 0 1 275.20,278.39Q172.90,319.10 278.42,287.68A110.1,110.1 0 0 1 278.86,289.20Q172.90,319.10 274.55,276.81Z" fill="#9ccc9c" fill-opacity="0.3" stroke="#9ccc9c" stroke-opacity="0.22" stroke-width="0.3"/>
<path d="M276.94,283.07A110.1,110.1 0 0 1 277.49,284.71Q172.90,319.10 277.96,286.18A110.1,110.1 0 0 1 278.42,287.68Q172.90,319.10 276.94,283.07Z" fill="#9ccc9c" fill-opacity="0.3" stroke="#9ccc9c" stroke-opacity="0.22" stroke-width="0.3"/>
<path d="M281.58,301.50A110.1,110.1 0 0 1 281.82,303.05Q172.90,319.10 62.86,322.87A110.1,110.1 0 0 1 62.83,321.48Q172.90,319.10 281.58,301.50Z" fill="#c4b4dc" fill-opacity="0.3" stroke="#c4b4dc" stroke-opacity="0.22" stroke-width="0.3"/>
<path d="M251.09,396.62A110.1,110.1 0 0 1 249.98,397.72Q172.90,319.10 131.71,217.00A110.1,110.1 0 0 1 133.12,216.44Q172.90,319.10 251.09,396.62Z" fill="#b8a6d6" fill-opacity="0.32" stroke="#b8a6d6" stroke-opacity="0.22" stroke-width="0.3"/>
<path d="M276.10,357.45A110.1,110.1 0 0 1 275.52,358.99Q172.90,319.10 255.36,392.05A110.1,110.1 0 0 1 254.32,393.22Q172.90,319.10 276.10,357.45Z" fill="#e88a80" fill-opacity="0.3" stroke="#e88a80" stroke-opacity="0.22" stroke-width="0.3"/>
<path d="M245.39,401.97A110.1,110.1 0 0 1 244.21,402.99Q172.90,319.10 64.79,339.96A110.1,110.1 0 0 1 64.52,338.51Q172.90,319.10 245.39,401.97Z" fill="#c4b4dc" fill-opacity="0.3" stroke="#c4b4dc" stroke-opacity="0.22" stroke-width="0.3"/>
<path d="M244.21,402.99A110.1,110.1 0 0 1 243.01,403.99Q172.90,319.10 76.33,371.97A110.1,110.1 0 0 1 75.60,370.62Q172.90,319.10 244.21,402.99Z" fill="#f0c070" fill-opacity="0.22" stroke="#f0c070" stroke-opacity="0.22" stroke-width="0.3"/>
<path d="M273.89,275.24A110.1,110.1 0 0 1 274.55,276.81Q172.90,319.10 278.68,349.63A110.1,110.1 0 0 1 278.21,351.21Q172.90,319.10 273.89,275.24Z" fill="#ea8a78" fill-opacity="0.3" stroke="#ea8a78" stroke-opacity="0.22" stroke-width="0.3"/>
<path d="M277.21,354.35A110.1,110.1 0 0 1 276.67,355.90Q172.90,319.10 75.60,370.62A110.1,110.1 0 0 1 74.89,369.26Q172.90,319.10 277.21,354.35Z" fill="#f0c070" fill-opacity="0.22" stroke="#f0c070" stroke-opacity="0.22" stroke-width="0.3"/>
<path d="M253.22,243.79A110.1,110.1 0 0 1 254.32,244.99Q172.90,319.10 161.12,209.63A110.1,110.1 0 0 1 162.50,209.49Q172.90,319.10 253.22,243.79Z" fill="#7aa8d8" fill-opacity="0.26" stroke="#7aa8d8" stroke-opacity="0.22" stroke-width="0.3"/>
<path d="M254.32,244.99A110.1,110.1 0 0 1 255.40,246.19Q172.90,319.10 134.54,215.90A110.1,110.1 0 0 1 135.97,215.38Q172.90,319.10 254.32,244.99Z" fill="#b8a6d6" fill-opacity="0.32" stroke="#b8a6d6" stroke-opacity="0.22" stroke-width="0.3"/>
<path d="M264.25,257.65A110.1,110.1 0 0 1 265.19,259.07Q172.90,319.10 152.58,210.89A110.1,110.1 0 0 1 154.13,210.61Q172.90,319.10 264.25,257.65Z" fill="#7aa8d8" fill-opacity="0.26" stroke="#7aa8d8" stroke-opacity="0.22" stroke-width="0.3"/>
<path d="M267.88,263.41A110.1,110.1 0 0 1 268.73,264.88Q172.90,319.10 269.38,266.06A110.1,110.1 0 0 1 270.19,267.56Q172.90,319.10 267.88,263.41Z" fill="#7aa8d8" fill-opacity="0.26" stroke="#7aa8d8" stroke-opacity="0.22" stroke-width="0.3"/>
<path d="M263.29,256.24A110.1,110.1 0 0 1 264.25,257.65Q172.90,319.10 169.17,209.06A110.1,110.1 0 0 1 170.56,209.02Q172.90,319.10 263.29,256.24Z" fill="#7aa8d8" fill-opacity="0.26" stroke="#7aa8d8" stroke-opacity="0.22" stroke-width="0.3"/>
<path d="M266.11,260.50A110.1,110.1 0 0 1 267.00,261.95Q172.90,319.10 81.84,380.99A110.1,110.1 0 0 1 80.96,379.67Q172.90,319.10 266.11,260.50Z" fill="#eeb080" fill-opacity="0.24" stroke="#eeb080" stroke-opacity="0.22" stroke-width="0.3"/>
<path d="M271.74,270.60A110.1,110.1 0 0 1 272.48,272.13Q172.90,319.10 64.52,338.51A110.1,110.1 0 0 1 64.27,337.05Q172.90,319.10 271.74,270.60Z" fill="#c4b4dc" fill-opacity="0.3" stroke="#c4b4dc" stroke-opacity="0.22" stroke-width="0.3"/>
<path d="M276.36,281.44A110.1,110.1 0 0 1 276.94,283.07Q172.90,319.10 74.89,369.26A110.1,110.1 0 0 1 74.20,367.88Q172.90,319.10 276.36,281.44Z" fill="#f0c070" fill-opacity="0.22" stroke="#f0c070" stroke-opacity="0.22" stroke-width="0.3"/>
<path d="M63.83,334.13A110.1,110.1 0 0 1 63.64,332.66Q172.90,319.10 158.38,209.96A110.1,110.1 0 0 1 159.75,209.79Q172.90,319.10 63.83,334.13Z" fill="#b0a4d8" fill-opacity="0.3" stroke="#b0a4d8" stroke-opacity="0.22" stroke-width="0.3"/>
<path d="M63.64,332.66A110.1,110.1 0 0 1 63.47,331.20Q172.90,319.10 140.40,213.90A110.1,110.1 0 0 1 141.91,213.45Q172.90,319.10 63.64,332.66Z" fill="#b0a4d8" fill-opacity="0.3" stroke="#b0a4d8" stroke-opacity="0.22" stroke-width="0.3"/>
<path d="M67.90,352.21A110.1,110.1 0 0 1 67.39,350.55Q172.90,319.10 124.77,220.08A110.1,110.1 0 0 1 126.14,219.42Q172.90,319.10 67.90,352.21Z" fill="#b8a6d6" fill-opacity="0.32" stroke="#b8a6d6" stroke-opacity="0.22" stroke-width="0.3"/>
<path d="M73.53,366.50A110.1,110.1 0 0 1 72.87,365.11Q172.90,319.10 141.91,213.45A110.1,110.1 0 0 1 143.42,213.02Q172.90,319.10 73.53,366.50Z" fill="#b0a4d8" fill-opacity="0.3" stroke="#b0a4d8" stroke-opacity="0.22" stroke-width="0.3"/>
<path d="M71.11,361.06A110.1,110.1 0 0 1 70.60,359.81Q172.90,319.10 126.14,219.42A110.1,110.1 0 0 1 127.52,218.79Q172.90,319.10 71.11,361.06Z" fill="#b8a6d6" fill-opacity="0.32" stroke="#b8a6d6" stroke-opacity="0.22" stroke-width="0.3"/>
<path d="M80.09,378.34A110.1,110.1 0 0 1 79.25,377.00Q172.90,319.10 143.42,213.02A110.1,110.1 0 0 1 144.93,212.61Q172.90,319.10 80.09,378.34Z" fill="#b0a4d8" fill-opacity="0.3" stroke="#b0a4d8" stroke-opacity="0.22" stroke-width="0.3"/>
<path d="M86.81,387.74A110.1,110.1 0 0 1 85.79,386.43Q172.90,319.10 62.99,325.63A110.1,110.1 0 0 1 62.92,324.25Q172.90,319.10 86.81,387.74Z" fill="#c4b4dc" fill-opacity="0.3" stroke="#c4b4dc" stroke-opacity="0.22" stroke-width="0.3"/>
<path d="M62.62,317.08A110.3,110.3 0 0 1 120.35,222.12L124.74,230.21A101.1,101.1 0 0 0 71.82,317.25Z" fill="#4e449e"/>
<path d="M178.47,209.14A110.1,110.1 0 0 1 198.23,211.95Q172.90,319.10 97.59,238.79A110.1,110.1 0 0 1 112.84,226.83Q172.90,319.10 178.47,209.14Z" fill="#4e449e" stroke="#4e449e" stroke-width="0.25"/>
<path d="M255.40,246.19A110.1,110.1 0 0 1 257.52,248.66Q172.90,319.10 95.44,240.86A110.1,110.1 0 0 1 97.59,238.79Q172.90,319.10 255.40,246.19Z" fill="#4e449e" stroke="#4e449e" stroke-width="0.25"/>
<path d="M265.19,259.07A110.1,110.1 0 0 1 266.11,260.50Q172.90,319.10 94.38,241.92A110.1,110.1 0 0 1 95.44,240.86Q172.90,319.10 265.19,259.07Z" fill="#4e449e" stroke="#4e449e" stroke-width="0.25"/>
<path d="M270.98,269.07A110.1,110.1 0 0 1 271.74,270.60Q172.90,319.10 93.34,242.99A110.1,110.1 0 0 1 94.38,241.92Q172.90,319.10 270.98,269.07Z" fill="#4e449e" stroke="#4e449e" stroke-width="0.25"/>
<path d="M275.76,279.82A110.1,110.1 0 0 1 276.36,281.44Q172.90,319.10 92.32,244.08A110.1,110.1 0 0 1 93.34,242.99Q172.90,319.10 275.76,279.82Z" fill="#4e449e" stroke="#4e449e" stroke-width="0.25"/>
<path d="M280.40,295.31A110.1,110.1 0 0 1 281.58,301.50Q172.90,319.10 88.37,248.56A110.1,110.1 0 0 1 92.32,244.08Q172.90,319.10 280.40,295.31Z" fill="#4e449e" stroke="#4e449e" stroke-width="0.25"/>
<path d="M282.59,328.57A110.1,110.1 0 0 1 281.95,334.28Q172.90,319.10 84.67,253.24A110.1,110.1 0 0 1 88.37,248.56Q172.90,319.10 282.59,328.57Z" fill="#4e449e" stroke="#4e449e" stroke-width="0.25"/>
<path d="M277.72,352.78A110.1,110.1 0 0 1 277.21,354.35Q172.90,319.10 83.78,254.44A110.1,110.1 0 0 1 84.67,253.24Q172.90,319.10 277.72,352.78Z" fill="#4e449e" stroke="#4e449e" stroke-width="0.25"/>
<path d="M266.18,377.59A110.1,110.1 0 0 1 262.02,383.75Q172.90,319.10 79.61,260.63A110.1,110.1 0 0 1 83.78,254.44Q172.90,319.10 266.18,377.59Z" fill="#4e449e" stroke="#4e449e" stroke-width="0.25"/>
<path d="M249.98,397.72A110.1,110.1 0 0 1 245.39,401.97Q172.90,319.10 76.58,265.77A110.1,110.1 0 0 1 79.61,260.63Q172.90,319.10 249.98,397.72Z" fill="#4e449e" stroke="#4e449e" stroke-width="0.25"/>
<path d="M199.86,425.85A110.1,110.1 0 0 1 182.09,428.82Q172.90,319.10 69.21,282.08A110.1,110.1 0 0 1 76.58,265.77Q172.90,319.10 199.86,425.85Z" fill="#4e449e" stroke="#4e449e" stroke-width="0.25"/>
<path d="M148.82,426.54A110.1,110.1 0 0 1 143.00,425.06Q172.90,319.10 67.35,287.76A110.1,110.1 0 0 1 69.21,282.08Q172.90,319.10 148.82,426.54Z" fill="#4e449e" stroke="#4e449e" stroke-width="0.25"/>
<path d="M102.88,404.07A110.1,110.1 0 0 1 94.02,395.91Q172.90,319.10 64.58,299.37A110.1,110.1 0 0 1 67.35,287.76Q172.90,319.10 102.88,404.07Z" fill="#4e449e" stroke="#4e449e" stroke-width="0.25"/>
<path d="M87.86,389.03A110.1,110.1 0 0 1 86.81,387.74Q172.90,319.10 64.32,300.84A110.1,110.1 0 0 1 64.58,299.37Q172.90,319.10 87.86,389.03Z" fill="#4e449e" stroke="#4e449e" stroke-width="0.25"/>
<path d="M83.77,383.74A110.1,110.1 0 0 1 82.49,381.94Q172.90,319.10 64.09,302.31A110.1,110.1 0 0 1 64.32,300.84Q172.90,319.10 83.77,383.74Z" fill="#4e449e" stroke="#4e449e" stroke-width="0.25"/>
<path d="M79.25,377.00A110.1,110.1 0 0 1 78.43,375.64Q172.90,319.10 63.87,303.79A110.1,110.1 0 0 1 64.09,302.31Q172.90,319.10 79.25,377.00Z" fill="#4e449e" stroke="#4e449e" stroke-width="0.25"/>
<path d="M72.87,365.11A110.1,110.1 0 0 1 71.63,362.30Q172.90,319.10 63.49,306.75A110.1,110.1 0 0 1 63.87,303.79Q172.90,319.10 72.87,365.11Z" fill="#4e449e" stroke="#4e449e" stroke-width="0.25"/>
<path d="M70.60,359.81A110.1,110.1 0 0 1 70.11,358.56Q172.90,319.10 63.34,308.24A110.1,110.1 0 0 1 63.49,306.75Q172.90,319.10 70.60,359.81Z" fill="#4e449e" stroke="#4e449e" stroke-width="0.25"/>
<path d="M67.39,350.55A110.1,110.1 0 0 1 66.45,347.22Q172.90,319.10 63.08,311.21A110.1,110.1 0 0 1 63.34,308.24Q172.90,319.10 67.39,350.55Z" fill="#4e449e" stroke="#4e449e" stroke-width="0.25"/>
<path d="M63.47,331.20A110.1,110.1 0 0 1 63.07,326.78Q172.90,319.10 62.85,315.69A110.1,110.1 0 0 1 63.08,311.21Q172.90,319.10 63.47,331.20Z" fill="#4e449e" stroke="#4e449e" stroke-width="0.25"/>
<path d="M62.80,320.10A110.1,110.1 0 0 1 62.80,318.72Q172.90,319.10 62.82,317.18A110.1,110.1 0 0 1 62.85,315.69Q172.90,319.10 62.80,320.10Z" fill="#4e449e" stroke="#4e449e" stroke-width="0.25"/>
<path d="M117.93,223.71A110.1,110.1 0 0 1 120.53,222.25Q172.90,319.10 122.06,221.44A110.1,110.1 0 0 1 124.77,220.08Q172.90,319.10 117.93,223.71Z" fill="#4e449e" stroke="#4e449e" stroke-width="0.25"/>
<path d="M115.36,225.23A110.1,110.1 0 0 1 117.93,223.71Q172.90,319.10 137.42,214.87A110.1,110.1 0 0 1 140.40,213.90Q172.90,319.10 115.36,225.23Z" fill="#4e449e" stroke="#4e449e" stroke-width="0.25"/>
<path d="M114.09,226.02A110.1,110.1 0 0 1 115.36,225.23Q172.90,319.10 157.01,210.15A110.1,110.1 0 0 1 158.38,209.96Q172.90,319.10 114.09,226.02Z" fill="#4e449e" stroke="#4e449e" stroke-width="0.25"/>
<path d="M112.84,226.83A110.1,110.1 0 0 1 114.09,226.02Q172.90,319.10 165.03,209.28A110.1,110.1 0 0 1 166.41,209.19Q172.90,319.10 112.84,226.83Z" fill="#4e449e" stroke="#4e449e" stroke-width="0.25"/>
<path d="M173.93,201.10A118.0,118.0 0 0 1 256.77,236.10L253.36,239.48A113.2,113.2 0 0 0 173.89,205.90Z" fill="#4ea2d3"/>
<path d="M257.78,237.13A118.0,118.0 0 0 1 267.88,249.08L264.01,251.92A113.2,113.2 0 0 0 254.33,240.46Z" fill="#3c8cc4"/>
<path d="M268.73,250.24A118.0,118.0 0 0 1 275.60,260.99L271.42,263.36A113.2,113.2 0 0 0 264.83,253.04Z" fill="#27729f"/>
<path d="M276.30,262.25A118.0,118.0 0 0 1 282.54,275.47L278.08,277.24A113.2,113.2 0 0 0 272.10,264.57Z" fill="#2e8f93"/>
<path d="M283.14,277.00A118.0,118.0 0 0 1 285.00,282.24L280.44,283.74A113.2,113.2 0 0 0 278.65,278.72Z" fill="#48a07c"/>
<path d="M285.50,283.81A118.0,118.0 0 0 1 290.88,317.04L286.08,317.12A113.2,113.2 0 0 0 280.92,285.25Z" fill="#6ab67f"/>
<path d="M290.90,318.48A118.0,118.0 0 0 1 286.66,350.44L282.04,349.16A113.2,113.2 0 0 0 286.10,318.51Z" fill="#92c873"/>
<path d="M286.27,351.82A118.0,118.0 0 0 1 282.23,363.49L277.78,361.69A113.2,113.2 0 0 0 281.66,350.49Z" fill="#68b050"/>
<path d="M281.68,364.83A118.0,118.0 0 0 1 262.49,395.89L258.85,392.77A113.2,113.2 0 0 0 277.25,362.97Z" fill="#7d8f55"/>
<path d="M261.28,397.29A118.0,118.0 0 0 1 242.76,414.20L239.92,410.33A113.2,113.2 0 0 0 257.68,394.11Z" fill="#eba4a4"/>
<path d="M241.09,415.40A118.0,118.0 0 0 1 163.44,436.72L163.82,431.94A113.2,113.2 0 0 0 238.31,411.49Z" fill="#e2571d"/>
<path d="M161.39,436.54A118.0,118.0 0 0 1 136.24,431.26L137.73,426.70A113.2,113.2 0 0 0 161.85,431.76Z" fill="#d72a3e"/>
<path d="M134.29,430.60A118.0,118.0 0 0 1 83.98,396.67L87.60,393.51A113.2,113.2 0 0 0 135.86,426.07Z" fill="#db1f24"/>
<path d="M82.91,395.42A118.0,118.0 0 0 1 79.54,391.26L83.33,388.32A113.2,113.2 0 0 0 86.57,392.32Z" fill="#e3393a"/>
<path d="M78.79,390.28A118.0,118.0 0 0 1 76.00,386.44L79.95,383.70A113.2,113.2 0 0 0 82.61,387.38Z" fill="#cd6d5e"/>
<path d="M75.30,385.43A118.0,118.0 0 0 1 71.65,379.70L75.77,377.23A113.2,113.2 0 0 0 79.27,382.73Z" fill="#e2996f"/>
<path d="M71.02,378.63A118.0,118.0 0 0 1 64.36,365.40L68.78,363.51A113.2,113.2 0 0 0 75.16,376.21Z" fill="#f0b45c"/>
<path d="M63.80,364.07A118.0,118.0 0 0 1 62.74,361.39L67.22,359.67A113.2,113.2 0 0 0 68.24,362.24Z" fill="#e9a236"/>
<path d="M62.16,359.85A118.0,118.0 0 0 1 58.81,349.24L63.46,348.02A113.2,113.2 0 0 0 66.66,358.19Z" fill="#e98e2c"/>
<path d="M58.41,347.65A118.0,118.0 0 0 1 55.19,327.33L59.98,327.00A113.2,113.2 0 0 0 63.06,346.49Z" fill="#ef8a1f"/>
<path d="M55.11,326.10A118.0,118.0 0 0 1 54.90,318.69L59.70,318.70A113.2,113.2 0 0 0 59.90,325.81Z" fill="#e9831f"/>
<path d="M54.92,317.04A118.0,118.0 0 0 1 116.78,215.30L119.06,219.52A113.2,113.2 0 0 0 59.72,317.12Z" fill="#4e449e"/>
<path d="M118.41,214.43A118.0,118.0 0 0 1 133.32,207.94L134.93,212.46A113.2,113.2 0 0 0 120.63,218.69Z" fill="#bba3c9"/>
<path d="M134.87,207.40A118.0,118.0 0 0 1 154.44,202.55L155.19,207.29A113.2,113.2 0 0 0 136.42,211.94Z" fill="#9d8bc6"/>
<path d="M155.87,202.34A118.0,118.0 0 0 1 163.23,201.50L163.62,206.28A113.2,113.2 0 0 0 156.56,207.09Z" fill="#7e62ad"/>
<path d="M164.46,201.40A118.0,118.0 0 0 1 171.87,201.10L171.91,205.90A113.2,113.2 0 0 0 164.81,206.19Z" fill="#6c4f9f"/>
<line x1="173.93" y1="201.10" x2="173.95" y2="198.90" stroke="#222" stroke-width="0.55"/>
<line x1="175.55" y1="201.13" x2="175.59" y2="199.63" stroke="#222" stroke-width="0.55"/>
<line x1="177.17" y1="201.18" x2="177.23" y2="199.68" stroke="#222" stroke-width="0.55"/>
<line x1="178.80" y1="201.25" x2="178.87" y2="199.75" stroke="#222" stroke-width="0.55"/>
<line x1="180.42" y1="201.34" x2="180.51" y2="199.84" stroke="#222" stroke-width="0.55"/>
<line x1="182.03" y1="201.45" x2="182.15" y2="199.96" stroke="#222" stroke-width="0.55"/>
<line x1="183.65" y1="201.59" x2="183.79" y2="200.10" stroke="#222" stroke-width="0.55"/>
<line x1="185.27" y1="201.75" x2="185.42" y2="200.26" stroke="#222" stroke-width="0.55"/>
<line x1="186.88" y1="201.93" x2="187.06" y2="200.44" stroke="#222" stroke-width="0.55"/>
<line x1="188.49" y1="202.13" x2="188.69" y2="200.65" stroke="#222" stroke-width="0.55"/>
<line x1="190.10" y1="202.36" x2="190.42" y2="200.18" stroke="#222" stroke-width="0.55"/>
<line x1="191.70" y1="202.61" x2="191.94" y2="201.13" stroke="#222" stroke-width="0.55"/>
<line x1="193.30" y1="202.88" x2="193.56" y2="201.40" stroke="#222" stroke-width="0.55"/>
<line x1="194.90" y1="203.17" x2="195.18" y2="201.69" stroke="#222" stroke-width="0.55"/>
<line x1="196.49" y1="203.48" x2="196.79" y2="202.01" stroke="#222" stroke-width="0.55"/>
<line x1="198.08" y1="203.82" x2="198.40" y2="202.35" stroke="#222" stroke-width="0.55"/>
<line x1="199.66" y1="204.17" x2="200.00" y2="202.71" stroke="#222" stroke-width="0.55"/>
<line x1="201.24" y1="204.55" x2="201.60" y2="203.10" stroke="#222" stroke-width="0.55"/>
<line x1="202.81" y1="204.95" x2="203.19" y2="203.50" stroke="#222" stroke-width="0.55"/>
<line x1="204.38" y1="205.38" x2="204.78" y2="203.93" stroke="#222" stroke-width="0.55"/>
<line x1="205.94" y1="205.82" x2="206.56" y2="203.71" stroke="#222" stroke-width="0.55"/>
<line x1="207.49" y1="206.28" x2="207.93" y2="204.85" stroke="#222" stroke-width="0.55"/>
<line x1="209.04" y1="206.77" x2="209.50" y2="205.34" stroke="#222" stroke-width="0.55"/>
<line x1="210.58" y1="207.28" x2="211.06" y2="205.86" stroke="#222" stroke-width="0.55"/>
<line x1="212.12" y1="207.81" x2="212.62" y2="206.39" stroke="#222" stroke-width="0.55"/>
<line x1="213.65" y1="208.36" x2="214.16" y2="206.95" stroke="#222" stroke-width="0.55"/>
<line x1="215.16" y1="208.93" x2="215.70" y2="207.53" stroke="#222" stroke-width="0.55"/>
<line x1="216.68" y1="209.52" x2="217.23" y2="208.13" stroke="#222" stroke-width="0.55"/>
<line x1="218.18" y1="210.13" x2="218.75" y2="208.75" stroke="#222" stroke-width="0.55"/>
<line x1="219.67" y1="210.77" x2="220.27" y2="209.39" stroke="#222" stroke-width="0.55"/>
<line x1="221.16" y1="211.42" x2="222.06" y2="209.41" stroke="#222" stroke-width="0.55"/>
<line x1="222.63" y1="212.09" x2="223.27" y2="210.73" stroke="#222" stroke-width="0.55"/>
<line x1="224.10" y1="212.79" x2="224.75" y2="211.44" stroke="#222" stroke-width="0.55"/>
<line x1="225.56" y1="213.50" x2="226.23" y2="212.16" stroke="#222" stroke-width="0.55"/>
<line x1="227.01" y1="214.24" x2="227.69" y2="212.90" stroke="#222" stroke-width="0.55"/>
<line x1="228.44" y1="214.99" x2="229.15" y2="213.67" stroke="#222" stroke-width="0.55"/>
<line x1="229.87" y1="215.76" x2="230.59" y2="214.45" stroke="#222" stroke-width="0.55"/>
<line x1="231.29" y1="216.56" x2="232.03" y2="215.25" stroke="#222" stroke-width="0.55"/>
<line x1="232.69" y1="217.37" x2="233.45" y2="216.08" stroke="#222" stroke-width="0.55"/>
<line x1="234.08" y1="218.20" x2="234.86" y2="216.92" stroke="#222" stroke-width="0.55"/>
<line x1="235.47" y1="219.05" x2="236.63" y2="217.19" stroke="#222" stroke-width="0.55"/>
<line x1="236.84" y1="219.92" x2="237.65" y2="218.66" stroke="#222" stroke-width="0.55"/>
<line x1="238.19" y1="220.81" x2="239.02" y2="219.56" stroke="#222" stroke-width="0.55"/>
<line x1="239.54" y1="221.72" x2="240.39" y2="220.48" stroke="#222" stroke-width="0.55"/>
<line x1="240.87" y1="222.64" x2="241.74" y2="221.42" stroke="#222" stroke-width="0.55"/>
<line x1="242.19" y1="223.59" x2="243.07" y2="222.37" stroke="#222" stroke-width="0.55"/>
<line x1="243.50" y1="224.55" x2="244.40" y2="223.35" stroke="#222" stroke-width="0.55"/>
<line x1="244.79" y1="225.53" x2="245.71" y2="224.34" stroke="#222" stroke-width="0.55"/>
<line x1="246.07" y1="226.53" x2="247.00" y2="225.35" stroke="#222" stroke-width="0.55"/>
<line x1="247.34" y1="227.54" x2="248.29" y2="226.38" stroke="#222" stroke-width="0.55"/>
<line x1="248.59" y1="228.57" x2="250.00" y2="226.89" stroke="#222" stroke-width="0.55"/>
<line x1="249.83" y1="229.62" x2="250.81" y2="228.49" stroke="#222" stroke-width="0.55"/>
<line x1="251.05" y1="230.69" x2="252.05" y2="229.57" stroke="#222" stroke-width="0.55"/>
<line x1="252.26" y1="231.77" x2="253.27" y2="230.66" stroke="#222" stroke-width="0.55"/>
<line x1="253.45" y1="232.87" x2="254.48" y2="231.78" stroke="#222" stroke-width="0.55"/>
<line x1="254.63" y1="233.99" x2="255.67" y2="232.91" stroke="#222" stroke-width="0.55"/>
<line x1="255.80" y1="235.12" x2="256.85" y2="234.05" stroke="#222" stroke-width="0.55"/>
<path d="M173.93,200.90A118.2,118.2 0 0 1 256.92,235.96" fill="none" stroke="#555" stroke-width="0.5"/>
<text transform="translate(173.98,195.60) rotate(-89.5)" font-size="4.4" fill="#5a5a6a" text-anchor="middle" dominant-baseline="central">0</text>
<text transform="translate(190.90,196.92) rotate(-81.6)" font-size="4.4" fill="#5a5a6a" text-anchor="middle" dominant-baseline="central">10</text>
<text transform="translate(207.48,200.54) rotate(-73.7)" font-size="4.4" fill="#5a5a6a" text-anchor="middle" dominant-baseline="central">20</text>
<text transform="translate(223.41,206.40) rotate(-65.9)" font-size="4.4" fill="#5a5a6a" text-anchor="middle" dominant-baseline="central">30</text>
<text transform="translate(238.38,214.39) rotate(-58.0)" font-size="4.4" fill="#5a5a6a" text-anchor="middle" dominant-baseline="central">40</text>
<text transform="translate(252.12,224.36) rotate(-50.1)" font-size="4.4" fill="#5a5a6a" text-anchor="middle" dominant-baseline="central">50</text>
<line x1="257.78" y1="237.13" x2="259.36" y2="235.60" stroke="#222" stroke-width="0.55"/>
<line x1="258.90" y1="238.31" x2="259.99" y2="237.28" stroke="#222" stroke-width="0.55"/>
<line x1="260.00" y1="239.50" x2="261.11" y2="238.48" stroke="#222" stroke-width="0.55"/>
<line x1="261.09" y1="240.70" x2="262.21" y2="239.70" stroke="#222" stroke-width="0.55"/>
<line x1="262.16" y1="241.92" x2="263.30" y2="240.94" stroke="#222" stroke-width="0.55"/>
<line x1="263.21" y1="243.16" x2="264.36" y2="242.19" stroke="#222" stroke-width="0.55"/>
<line x1="264.25" y1="244.41" x2="265.41" y2="243.46" stroke="#222" stroke-width="0.55"/>
<line x1="265.27" y1="245.67" x2="266.44" y2="244.74" stroke="#222" stroke-width="0.55"/>
<line x1="266.27" y1="246.95" x2="267.46" y2="246.03" stroke="#222" stroke-width="0.55"/>
<line x1="267.25" y1="248.24" x2="268.45" y2="247.34" stroke="#222" stroke-width="0.55"/>
<path d="M257.93,236.99A118.2,118.2 0 0 1 268.04,248.96" fill="none" stroke="#555" stroke-width="0.5"/>
<text transform="translate(261.74,233.31) rotate(-44.0)" font-size="4.4" fill="#5a5a6a" text-anchor="middle" dominant-baseline="central">0</text>
<text transform="translate(269.14,237.77) rotate(-40.2)" font-size="6.5" fill="#1e1e1e" dominant-baseline="central">DNM2</text>
<line x1="268.73" y1="250.24" x2="270.51" y2="248.96" stroke="#222" stroke-width="0.55"/>
<line x1="269.66" y1="251.57" x2="270.89" y2="250.71" stroke="#222" stroke-width="0.55"/>
<line x1="270.58" y1="252.90" x2="271.83" y2="252.06" stroke="#222" stroke-width="0.55"/>
<line x1="271.48" y1="254.25" x2="272.74" y2="253.43" stroke="#222" stroke-width="0.55"/>
<line x1="272.37" y1="255.62" x2="273.63" y2="254.81" stroke="#222" stroke-width="0.55"/>
<line x1="273.23" y1="256.99" x2="274.51" y2="256.20" stroke="#222" stroke-width="0.55"/>
<line x1="274.08" y1="258.37" x2="275.36" y2="257.60" stroke="#222" stroke-width="0.55"/>
<line x1="274.90" y1="259.77" x2="276.20" y2="259.02" stroke="#222" stroke-width="0.55"/>
<path d="M268.89,250.13A118.2,118.2 0 0 1 275.78,260.90" fill="none" stroke="#555" stroke-width="0.5"/>
<text transform="translate(273.19,247.03) rotate(-35.7)" font-size="4.4" fill="#5a5a6a" text-anchor="middle" dominant-baseline="central">0</text>
<text transform="translate(279.05,251.21) rotate(-32.6)" font-size="6.5" fill="#1e1e1e" dominant-baseline="central">DNMT3A</text>
<line x1="276.30" y1="262.25" x2="278.23" y2="261.19" stroke="#222" stroke-width="0.55"/>
<line x1="277.08" y1="263.68" x2="278.40" y2="262.98" stroke="#222" stroke-width="0.55"/>
<line x1="277.83" y1="265.12" x2="279.16" y2="264.43" stroke="#222" stroke-width="0.55"/>
<line x1="278.56" y1="266.57" x2="279.90" y2="265.90" stroke="#222" stroke-width="0.55"/>
<line x1="279.27" y1="268.02" x2="280.63" y2="267.38" stroke="#222" stroke-width="0.55"/>
<line x1="279.97" y1="269.49" x2="281.33" y2="268.86" stroke="#222" stroke-width="0.55"/>
<line x1="280.64" y1="270.97" x2="282.01" y2="270.36" stroke="#222" stroke-width="0.55"/>
<line x1="281.29" y1="272.46" x2="282.67" y2="271.86" stroke="#222" stroke-width="0.55"/>
<line x1="281.92" y1="273.95" x2="283.31" y2="273.38" stroke="#222" stroke-width="0.55"/>
<line x1="282.53" y1="275.45" x2="283.93" y2="274.90" stroke="#222" stroke-width="0.55"/>
<path d="M276.48,262.16A118.2,118.2 0 0 1 282.72,275.40" fill="none" stroke="#555" stroke-width="0.5"/>
<text transform="translate(281.12,259.60) rotate(-28.8)" font-size="4.4" fill="#5a5a6a" text-anchor="middle" dominant-baseline="central">0</text>
<text transform="translate(286.86,265.35) rotate(-25.2)" font-size="6.5" fill="#1e1e1e" dominant-baseline="central">EP300</text>
<line x1="283.14" y1="277.00" x2="285.19" y2="276.22" stroke="#222" stroke-width="0.55"/>
<line x1="283.70" y1="278.52" x2="285.11" y2="278.01" stroke="#222" stroke-width="0.55"/>
<line x1="284.25" y1="280.05" x2="285.67" y2="279.56" stroke="#222" stroke-width="0.55"/>
<line x1="284.78" y1="281.59" x2="286.20" y2="281.11" stroke="#222" stroke-width="0.55"/>
<path d="M283.32,276.93A118.2,118.2 0 0 1 285.19,282.18" fill="none" stroke="#555" stroke-width="0.5"/>
<text transform="translate(288.27,275.04) rotate(-20.9)" font-size="4.4" fill="#5a5a6a" text-anchor="middle" dominant-baseline="central">0</text>
<text transform="translate(291.64,276.94) rotate(-19.6)" font-size="6.5" fill="#1e1e1e" dominant-baseline="central">ETV6</text>
<line x1="285.50" y1="283.81" x2="287.60" y2="283.16" stroke="#222" stroke-width="0.55"/>
<line x1="285.98" y1="285.37" x2="287.41" y2="284.94" stroke="#222" stroke-width="0.55"/>
<line x1="286.43" y1="286.92" x2="287.87" y2="286.51" stroke="#222" stroke-width="0.55"/>
<line x1="286.86" y1="288.49" x2="288.31" y2="288.10" stroke="#222" stroke-width="0.55"/>
<line x1="287.27" y1="290.06" x2="288.72" y2="289.69" stroke="#222" stroke-width="0.55"/>
<line x1="287.66" y1="291.63" x2="289.12" y2="291.28" stroke="#222" stroke-width="0.55"/>
<line x1="288.03" y1="293.21" x2="289.49" y2="292.89" stroke="#222" stroke-width="0.55"/>
<line x1="288.37" y1="294.80" x2="289.84" y2="294.49" stroke="#222" stroke-width="0.55"/>
<line x1="288.69" y1="296.39" x2="290.17" y2="296.10" stroke="#222" stroke-width="0.55"/>
<line x1="289.00" y1="297.99" x2="290.47" y2="297.72" stroke="#222" stroke-width="0.55"/>
<line x1="289.27" y1="299.58" x2="291.44" y2="299.22" stroke="#222" stroke-width="0.55"/>
<line x1="289.53" y1="301.19" x2="291.01" y2="300.96" stroke="#222" stroke-width="0.55"/>
<line x1="289.77" y1="302.79" x2="291.25" y2="302.58" stroke="#222" stroke-width="0.55"/>
<line x1="289.98" y1="304.40" x2="291.47" y2="304.21" stroke="#222" stroke-width="0.55"/>
<line x1="290.17" y1="306.01" x2="291.66" y2="305.85" stroke="#222" stroke-width="0.55"/>
<line x1="290.34" y1="307.63" x2="291.83" y2="307.48" stroke="#222" stroke-width="0.55"/>
<line x1="290.49" y1="309.24" x2="291.98" y2="309.12" stroke="#222" stroke-width="0.55"/>
<line x1="290.61" y1="310.86" x2="292.11" y2="310.76" stroke="#222" stroke-width="0.55"/>
<line x1="290.71" y1="312.48" x2="292.21" y2="312.40" stroke="#222" stroke-width="0.55"/>
<line x1="290.79" y1="314.10" x2="292.29" y2="314.04" stroke="#222" stroke-width="0.55"/>
<line x1="290.85" y1="315.72" x2="293.05" y2="315.66" stroke="#222" stroke-width="0.55"/>
<path d="M285.69,283.75A118.2,118.2 0 0 1 291.08,317.04" fill="none" stroke="#555" stroke-width="0.5"/>
<text transform="translate(290.75,282.17) rotate(-17.4)" font-size="4.4" fill="#5a5a6a" text-anchor="middle" dominant-baseline="central">0</text>
<text transform="translate(294.70,298.67) rotate(-9.5)" font-size="4.4" fill="#5a5a6a" text-anchor="middle" dominant-baseline="central">10</text>
<text transform="translate(296.35,315.57) rotate(-1.6)" font-size="4.4" fill="#5a5a6a" text-anchor="middle" dominant-baseline="central">20</text>
<line x1="290.90" y1="318.48" x2="293.10" y2="318.47" stroke="#222" stroke-width="0.55"/>
<line x1="290.90" y1="320.11" x2="292.40" y2="320.12" stroke="#222" stroke-width="0.55"/>
<line x1="290.87" y1="321.73" x2="292.37" y2="321.76" stroke="#222" stroke-width="0.55"/>
<line x1="290.82" y1="323.35" x2="292.32" y2="323.40" stroke="#222" stroke-width="0.55"/>
<line x1="290.75" y1="324.97" x2="292.25" y2="325.05" stroke="#222" stroke-width="0.55"/>
<line x1="290.66" y1="326.59" x2="292.16" y2="326.69" stroke="#222" stroke-width="0.55"/>
<line x1="290.55" y1="328.21" x2="292.04" y2="328.33" stroke="#222" stroke-width="0.55"/>
<line x1="290.41" y1="329.83" x2="291.91" y2="329.96" stroke="#222" stroke-width="0.55"/>
<line x1="290.25" y1="331.44" x2="291.74" y2="331.60" stroke="#222" stroke-width="0.55"/>
<line x1="290.07" y1="333.06" x2="291.56" y2="333.23" stroke="#222" stroke-width="0.55"/>
<line x1="289.87" y1="334.67" x2="292.05" y2="334.96" stroke="#222" stroke-width="0.55"/>
<line x1="289.64" y1="336.27" x2="291.13" y2="336.49" stroke="#222" stroke-width="0.55"/>
<line x1="289.40" y1="337.88" x2="290.88" y2="338.12" stroke="#222" stroke-width="0.55"/>
<line x1="289.13" y1="339.48" x2="290.60" y2="339.74" stroke="#222" stroke-width="0.55"/>
<line x1="288.84" y1="341.07" x2="290.31" y2="341.35" stroke="#222" stroke-width="0.55"/>
<line x1="288.52" y1="342.67" x2="289.99" y2="342.97" stroke="#222" stroke-width="0.55"/>
<line x1="288.19" y1="344.25" x2="289.65" y2="344.57" stroke="#222" stroke-width="0.55"/>
<line x1="287.83" y1="345.84" x2="289.29" y2="346.18" stroke="#222" stroke-width="0.55"/>
<line x1="287.45" y1="347.41" x2="288.91" y2="347.77" stroke="#222" stroke-width="0.55"/>
<line x1="287.05" y1="348.99" x2="288.50" y2="349.37" stroke="#222" stroke-width="0.55"/>
<path d="M291.10,318.48A118.2,118.2 0 0 1 286.86,350.49" fill="none" stroke="#555" stroke-width="0.5"/>
<text transform="translate(296.40,318.45) rotate(-0.3)" font-size="4.4" fill="#5a5a6a" text-anchor="middle" dominant-baseline="central">0</text>
<text transform="translate(295.32,335.39) rotate(7.6)" font-size="4.4" fill="#5a5a6a" text-anchor="middle" dominant-baseline="central">10</text>
<line x1="286.27" y1="351.82" x2="288.39" y2="352.43" stroke="#222" stroke-width="0.55"/>
<line x1="285.81" y1="353.38" x2="287.25" y2="353.81" stroke="#222" stroke-width="0.55"/>
<line x1="285.33" y1="354.93" x2="286.76" y2="355.38" stroke="#222" stroke-width="0.55"/>
<line x1="284.83" y1="356.47" x2="286.25" y2="356.95" stroke="#222" stroke-width="0.55"/>
<line x1="284.30" y1="358.01" x2="285.72" y2="358.50" stroke="#222" stroke-width="0.55"/>
<line x1="283.76" y1="359.54" x2="285.16" y2="360.05" stroke="#222" stroke-width="0.55"/>
<line x1="283.19" y1="361.06" x2="284.59" y2="361.59" stroke="#222" stroke-width="0.55"/>
<line x1="282.60" y1="362.57" x2="284.00" y2="363.12" stroke="#222" stroke-width="0.55"/>
<path d="M286.46,351.88A118.2,118.2 0 0 1 282.42,363.57" fill="none" stroke="#555" stroke-width="0.5"/>
<text transform="translate(291.56,353.35) rotate(16.1)" font-size="4.4" fill="#5a5a6a" text-anchor="middle" dominant-baseline="central">0</text>
<text transform="translate(291.96,360.33) rotate(19.1)" font-size="6.5" fill="#1e1e1e" dominant-baseline="central">KMT2D</text>
<line x1="281.68" y1="364.83" x2="283.71" y2="365.68" stroke="#222" stroke-width="0.55"/>
<line x1="281.04" y1="366.32" x2="282.42" y2="366.92" stroke="#222" stroke-width="0.55"/>
<line x1="280.38" y1="367.80" x2="281.75" y2="368.42" stroke="#222" stroke-width="0.55"/>
<line x1="279.70" y1="369.27" x2="281.06" y2="369.91" stroke="#222" stroke-width="0.55"/>
<line x1="279.00" y1="370.74" x2="280.35" y2="371.40" stroke="#222" stroke-width="0.55"/>
<line x1="278.28" y1="372.19" x2="279.62" y2="372.87" stroke="#222" stroke-width="0.55"/>
<line x1="277.54" y1="373.64" x2="278.87" y2="374.33" stroke="#222" stroke-width="0.55"/>
<line x1="276.78" y1="375.07" x2="278.10" y2="375.78" stroke="#222" stroke-width="0.55"/>
<line x1="276.00" y1="376.49" x2="277.31" y2="377.22" stroke="#222" stroke-width="0.55"/>
<line x1="275.20" y1="377.91" x2="276.50" y2="378.65" stroke="#222" stroke-width="0.55"/>
<line x1="274.38" y1="379.31" x2="276.28" y2="380.43" stroke="#222" stroke-width="0.55"/>
<line x1="273.55" y1="380.70" x2="274.83" y2="381.48" stroke="#222" stroke-width="0.55"/>
<line x1="272.69" y1="382.08" x2="273.96" y2="382.88" stroke="#222" stroke-width="0.55"/>
<line x1="271.81" y1="383.44" x2="273.07" y2="384.26" stroke="#222" stroke-width="0.55"/>
<line x1="270.92" y1="384.80" x2="272.17" y2="385.63" stroke="#222" stroke-width="0.55"/>
<line x1="270.01" y1="386.14" x2="271.24" y2="386.99" stroke="#222" stroke-width="0.55"/>
<line x1="269.08" y1="387.47" x2="270.30" y2="388.34" stroke="#222" stroke-width="0.55"/>
<line x1="268.13" y1="388.78" x2="269.34" y2="389.67" stroke="#222" stroke-width="0.55"/>
<line x1="267.16" y1="390.09" x2="268.36" y2="390.99" stroke="#222" stroke-width="0.55"/>
<line x1="266.17" y1="391.38" x2="267.36" y2="392.30" stroke="#222" stroke-width="0.55"/>
<line x1="265.17" y1="392.65" x2="266.89" y2="394.02" stroke="#222" stroke-width="0.55"/>
<line x1="264.15" y1="393.92" x2="265.31" y2="394.87" stroke="#222" stroke-width="0.55"/>
<line x1="263.11" y1="395.16" x2="264.26" y2="396.13" stroke="#222" stroke-width="0.55"/>
<path d="M281.86,364.90A118.2,118.2 0 0 1 262.65,396.02" fill="none" stroke="#555" stroke-width="0.5"/>
<text transform="translate(286.75,366.96) rotate(22.8)" font-size="4.4" fill="#5a5a6a" text-anchor="middle" dominant-baseline="central">0</text>
<text transform="translate(279.11,382.11) rotate(30.7)" font-size="4.4" fill="#5a5a6a" text-anchor="middle" dominant-baseline="central">10</text>
<text transform="translate(269.47,396.08) rotate(38.6)" font-size="4.4" fill="#5a5a6a" text-anchor="middle" dominant-baseline="central">20</text>
<line x1="261.28" y1="397.29" x2="262.92" y2="398.75" stroke="#222" stroke-width="0.55"/>
<line x1="260.19" y1="398.50" x2="261.30" y2="399.51" stroke="#222" stroke-width="0.55"/>
<line x1="259.09" y1="399.69" x2="260.19" y2="400.71" stroke="#222" stroke-width="0.55"/>
<line x1="257.98" y1="400.87" x2="259.06" y2="401.91" stroke="#222" stroke-width="0.55"/>
<line x1="256.84" y1="402.03" x2="257.91" y2="403.08" stroke="#222" stroke-width="0.55"/>
<line x1="255.70" y1="403.18" x2="256.75" y2="404.25" stroke="#222" stroke-width="0.55"/>
<line x1="254.53" y1="404.31" x2="255.57" y2="405.39" stroke="#222" stroke-width="0.55"/>
<line x1="253.35" y1="405.42" x2="254.37" y2="406.52" stroke="#222" stroke-width="0.55"/>
<line x1="252.16" y1="406.52" x2="253.16" y2="407.63" stroke="#222" stroke-width="0.55"/>
<line x1="250.95" y1="407.60" x2="251.94" y2="408.73" stroke="#222" stroke-width="0.55"/>
<line x1="249.72" y1="408.67" x2="251.15" y2="410.34" stroke="#222" stroke-width="0.55"/>
<line x1="248.48" y1="409.72" x2="249.44" y2="410.87" stroke="#222" stroke-width="0.55"/>
<line x1="247.23" y1="410.75" x2="248.18" y2="411.91" stroke="#222" stroke-width="0.55"/>
<line x1="245.96" y1="411.76" x2="246.89" y2="412.94" stroke="#222" stroke-width="0.55"/>
<line x1="244.68" y1="412.76" x2="245.59" y2="413.95" stroke="#222" stroke-width="0.55"/>
<line x1="243.39" y1="413.73" x2="244.28" y2="414.94" stroke="#222" stroke-width="0.55"/>
<path d="M261.43,397.42A118.2,118.2 0 0 1 242.88,414.36" fill="none" stroke="#555" stroke-width="0.5"/>
<text transform="translate(265.40,400.93) rotate(41.5)" font-size="4.4" fill="#5a5a6a" text-anchor="middle" dominant-baseline="central">0</text>
<text transform="translate(253.30,412.84) rotate(49.4)" font-size="4.4" fill="#5a5a6a" text-anchor="middle" dominant-baseline="central">10</text>
<text transform="translate(261.23,415.84) rotate(47.6)" font-size="6.5" fill="#1e1e1e" dominant-baseline="central">NF1</text>
<line x1="241.09" y1="415.40" x2="242.36" y2="417.20" stroke="#222" stroke-width="0.55"/>
<line x1="239.76" y1="416.33" x2="240.61" y2="417.57" stroke="#222" stroke-width="0.55"/>
<line x1="238.41" y1="417.24" x2="239.25" y2="418.49" stroke="#222" stroke-width="0.55"/>
<line x1="237.06" y1="418.13" x2="237.87" y2="419.39" stroke="#222" stroke-width="0.55"/>
<line x1="235.69" y1="419.01" x2="236.49" y2="420.28" stroke="#222" stroke-width="0.55"/>
<line x1="234.31" y1="419.86" x2="235.09" y2="421.14" stroke="#222" stroke-width="0.55"/>
<line x1="232.92" y1="420.70" x2="233.68" y2="421.99" stroke="#222" stroke-width="0.55"/>
<line x1="231.51" y1="421.51" x2="232.26" y2="422.81" stroke="#222" stroke-width="0.55"/>
<line x1="230.10" y1="422.31" x2="230.83" y2="423.62" stroke="#222" stroke-width="0.55"/>
<line x1="228.68" y1="423.09" x2="229.38" y2="424.41" stroke="#222" stroke-width="0.55"/>
<line x1="227.24" y1="423.84" x2="228.25" y2="425.80" stroke="#222" stroke-width="0.55"/>
<line x1="225.79" y1="424.58" x2="226.47" y2="425.92" stroke="#222" stroke-width="0.55"/>
<line x1="224.34" y1="425.30" x2="224.99" y2="426.65" stroke="#222" stroke-width="0.55"/>
<line x1="222.87" y1="426.00" x2="223.51" y2="427.35" stroke="#222" stroke-width="0.55"/>
<line x1="221.40" y1="426.67" x2="222.02" y2="428.04" stroke="#222" stroke-width="0.55"/>
<line x1="219.91" y1="427.33" x2="220.51" y2="428.71" stroke="#222" stroke-width="0.55"/>
<line x1="218.42" y1="427.97" x2="219.00" y2="429.35" stroke="#222" stroke-width="0.55"/>
<line x1="216.92" y1="428.58" x2="217.48" y2="429.97" stroke="#222" stroke-width="0.55"/>
<line x1="215.41" y1="429.18" x2="215.95" y2="430.58" stroke="#222" stroke-width="0.55"/>
<line x1="213.89" y1="429.75" x2="214.41" y2="431.16" stroke="#222" stroke-width="0.55"/>
<line x1="212.37" y1="430.30" x2="213.10" y2="432.38" stroke="#222" stroke-width="0.55"/>
<line x1="210.83" y1="430.84" x2="211.32" y2="432.26" stroke="#222" stroke-width="0.55"/>
<line x1="209.29" y1="431.35" x2="209.76" y2="432.77" stroke="#222" stroke-width="0.55"/>
<line x1="207.75" y1="431.84" x2="208.19" y2="433.27" stroke="#222" stroke-width="0.55"/>
<line x1="206.19" y1="432.31" x2="206.62" y2="433.75" stroke="#222" stroke-width="0.55"/>
<line x1="204.63" y1="432.75" x2="205.04" y2="434.20" stroke="#222" stroke-width="0.55"/>
<line x1="203.07" y1="433.18" x2="203.45" y2="434.63" stroke="#222" stroke-width="0.55"/>
<line x1="201.49" y1="433.58" x2="201.86" y2="435.04" stroke="#222" stroke-width="0.55"/>
<line x1="199.92" y1="433.97" x2="200.26" y2="435.43" stroke="#222" stroke-width="0.55"/>
<line x1="198.34" y1="434.33" x2="198.66" y2="435.79" stroke="#222" stroke-width="0.55"/>
<line x1="196.75" y1="434.66" x2="197.19" y2="436.82" stroke="#222" stroke-width="0.55"/>
<line x1="195.16" y1="434.98" x2="195.44" y2="436.46" stroke="#222" stroke-width="0.55"/>
<line x1="193.56" y1="435.28" x2="193.82" y2="436.75" stroke="#222" stroke-width="0.55"/>
<line x1="191.96" y1="435.55" x2="192.20" y2="437.03" stroke="#222" stroke-width="0.55"/>
<line x1="190.36" y1="435.80" x2="190.58" y2="437.28" stroke="#222" stroke-width="0.55"/>
<line x1="188.75" y1="436.03" x2="188.95" y2="437.52" stroke="#222" stroke-width="0.55"/>
<line x1="187.14" y1="436.24" x2="187.32" y2="437.73" stroke="#222" stroke-width="0.55"/>
<line x1="185.53" y1="436.42" x2="185.69" y2="437.91" stroke="#222" stroke-width="0.55"/>
<line x1="183.91" y1="436.58" x2="184.05" y2="438.08" stroke="#222" stroke-width="0.55"/>
<line x1="182.30" y1="436.73" x2="182.42" y2="438.22" stroke="#222" stroke-width="0.55"/>
<line x1="180.68" y1="436.84" x2="180.82" y2="439.04" stroke="#222" stroke-width="0.55"/>
<line x1="179.06" y1="436.94" x2="179.14" y2="438.44" stroke="#222" stroke-width="0.55"/>
<line x1="177.44" y1="437.01" x2="177.50" y2="438.51" stroke="#222" stroke-width="0.55"/>
<line x1="175.82" y1="437.06" x2="175.85" y2="438.56" stroke="#222" stroke-width="0.55"/>
<line x1="174.19" y1="437.09" x2="174.21" y2="438.59" stroke="#222" stroke-width="0.55"/>
<line x1="172.57" y1="437.10" x2="172.57" y2="438.60" stroke="#222" stroke-width="0.55"/>
<line x1="170.95" y1="437.08" x2="170.92" y2="438.58" stroke="#222" stroke-width="0.55"/>
<line x1="169.33" y1="437.05" x2="169.28" y2="438.55" stroke="#222" stroke-width="0.55"/>
<line x1="167.70" y1="436.99" x2="167.64" y2="438.48" stroke="#222" stroke-width="0.55"/>
<line x1="166.08" y1="436.90" x2="166.00" y2="438.40" stroke="#222" stroke-width="0.55"/>
<line x1="164.46" y1="436.80" x2="164.31" y2="438.99" stroke="#222" stroke-width="0.55"/>
<path d="M241.20,415.57A118.2,118.2 0 0 1 163.42,436.92" fill="none" stroke="#555" stroke-width="0.5"/>
<text transform="translate(244.27,419.89) rotate(54.7)" font-size="4.4" fill="#5a5a6a" text-anchor="middle" dominant-baseline="central">0</text>
<text transform="translate(229.77,428.73) rotate(62.6)" font-size="4.4" fill="#5a5a6a" text-anchor="middle" dominant-baseline="central">10</text>
<text transform="translate(214.21,435.49) rotate(70.5)" font-size="4.4" fill="#5a5a6a" text-anchor="middle" dominant-baseline="central">20</text>
<text transform="translate(197.86,440.05) rotate(78.3)" font-size="4.4" fill="#5a5a6a" text-anchor="middle" dominant-baseline="central">30</text>
<text transform="translate(181.04,442.33) rotate(86.2)" font-size="4.4" fill="#5a5a6a" text-anchor="middle" dominant-baseline="central">40</text>
<text transform="translate(164.07,442.28) rotate(274.1)" font-size="4.4" fill="#5a5a6a" text-anchor="middle" dominant-baseline="central">50</text>
<line x1="161.39" y1="436.54" x2="161.17" y2="438.73" stroke="#222" stroke-width="0.55"/>
<line x1="159.77" y1="436.37" x2="159.60" y2="437.86" stroke="#222" stroke-width="0.55"/>
<line x1="158.16" y1="436.18" x2="157.97" y2="437.66" stroke="#222" stroke-width="0.55"/>
<line x1="156.55" y1="435.96" x2="156.34" y2="437.45" stroke="#222" stroke-width="0.55"/>
<line x1="154.95" y1="435.73" x2="154.72" y2="437.21" stroke="#222" stroke-width="0.55"/>
<line x1="153.34" y1="435.47" x2="153.09" y2="436.95" stroke="#222" stroke-width="0.55"/>
<line x1="151.74" y1="435.19" x2="151.48" y2="436.66" stroke="#222" stroke-width="0.55"/>
<line x1="150.15" y1="434.89" x2="149.86" y2="436.36" stroke="#222" stroke-width="0.55"/>
<line x1="148.56" y1="434.56" x2="148.25" y2="436.03" stroke="#222" stroke-width="0.55"/>
<line x1="146.97" y1="434.22" x2="146.64" y2="435.68" stroke="#222" stroke-width="0.55"/>
<line x1="145.39" y1="433.85" x2="144.88" y2="435.99" stroke="#222" stroke-width="0.55"/>
<line x1="143.82" y1="433.46" x2="143.45" y2="434.91" stroke="#222" stroke-width="0.55"/>
<line x1="142.25" y1="433.05" x2="141.86" y2="434.50" stroke="#222" stroke-width="0.55"/>
<line x1="140.68" y1="432.62" x2="140.27" y2="434.06" stroke="#222" stroke-width="0.55"/>
<line x1="139.13" y1="432.16" x2="138.70" y2="433.60" stroke="#222" stroke-width="0.55"/>
<line x1="137.57" y1="431.69" x2="137.12" y2="433.12" stroke="#222" stroke-width="0.55"/>
<path d="M161.37,436.74A118.2,118.2 0 0 1 136.18,431.45" fill="none" stroke="#555" stroke-width="0.5"/>
<text transform="translate(160.85,442.01) rotate(275.6)" font-size="4.4" fill="#5a5a6a" text-anchor="middle" dominant-baseline="central">0</text>
<text transform="translate(144.11,439.20) rotate(283.5)" font-size="4.4" fill="#5a5a6a" text-anchor="middle" dominant-baseline="central">10</text>
<line x1="134.29" y1="430.60" x2="133.57" y2="432.68" stroke="#222" stroke-width="0.55"/>
<line x1="132.76" y1="430.06" x2="132.25" y2="431.47" stroke="#222" stroke-width="0.55"/>
<line x1="131.24" y1="429.50" x2="130.71" y2="430.90" stroke="#222" stroke-width="0.55"/>
<line x1="129.72" y1="428.92" x2="129.17" y2="430.31" stroke="#222" stroke-width="0.55"/>
<line x1="128.22" y1="428.31" x2="127.65" y2="429.70" stroke="#222" stroke-width="0.55"/>
<line x1="126.72" y1="427.69" x2="126.13" y2="429.07" stroke="#222" stroke-width="0.55"/>
<line x1="125.23" y1="427.04" x2="124.62" y2="428.41" stroke="#222" stroke-width="0.55"/>
<line x1="123.75" y1="426.38" x2="123.12" y2="427.74" stroke="#222" stroke-width="0.55"/>
<line x1="122.28" y1="425.69" x2="121.63" y2="427.04" stroke="#222" stroke-width="0.55"/>
<line x1="120.82" y1="424.98" x2="120.16" y2="426.33" stroke="#222" stroke-width="0.55"/>
<line x1="119.37" y1="424.26" x2="118.37" y2="426.22" stroke="#222" stroke-width="0.55"/>
<line x1="117.92" y1="423.51" x2="117.23" y2="424.84" stroke="#222" stroke-width="0.55"/>
<line x1="116.49" y1="422.75" x2="115.78" y2="424.06" stroke="#222" stroke-width="0.55"/>
<line x1="115.07" y1="421.96" x2="114.34" y2="423.27" stroke="#222" stroke-width="0.55"/>
<line x1="113.66" y1="421.15" x2="112.91" y2="422.45" stroke="#222" stroke-width="0.55"/>
<line x1="112.27" y1="420.33" x2="111.50" y2="421.62" stroke="#222" stroke-width="0.55"/>
<line x1="110.88" y1="419.49" x2="110.09" y2="420.76" stroke="#222" stroke-width="0.55"/>
<line x1="109.51" y1="418.62" x2="108.70" y2="419.89" stroke="#222" stroke-width="0.55"/>
<line x1="108.14" y1="417.74" x2="107.32" y2="419.00" stroke="#222" stroke-width="0.55"/>
<line x1="106.79" y1="416.84" x2="105.95" y2="418.09" stroke="#222" stroke-width="0.55"/>
<line x1="105.45" y1="415.93" x2="104.20" y2="417.73" stroke="#222" stroke-width="0.55"/>
<line x1="104.13" y1="414.99" x2="103.25" y2="416.21" stroke="#222" stroke-width="0.55"/>
<line x1="102.82" y1="414.03" x2="101.93" y2="415.24" stroke="#222" stroke-width="0.55"/>
<line x1="101.52" y1="413.06" x2="100.61" y2="414.26" stroke="#222" stroke-width="0.55"/>
<line x1="100.23" y1="412.07" x2="99.31" y2="413.25" stroke="#222" stroke-width="0.55"/>
<line x1="98.96" y1="411.06" x2="98.02" y2="412.23" stroke="#222" stroke-width="0.55"/>
<line x1="97.70" y1="410.04" x2="96.75" y2="411.19" stroke="#222" stroke-width="0.55"/>
<line x1="96.46" y1="408.99" x2="95.49" y2="410.14" stroke="#222" stroke-width="0.55"/>
<line x1="95.23" y1="407.93" x2="94.24" y2="409.06" stroke="#222" stroke-width="0.55"/>
<line x1="94.02" y1="406.86" x2="93.01" y2="407.97" stroke="#222" stroke-width="0.55"/>
<line x1="92.82" y1="405.76" x2="91.32" y2="407.38" stroke="#222" stroke-width="0.55"/>
<line x1="91.63" y1="404.65" x2="90.60" y2="405.74" stroke="#222" stroke-width="0.55"/>
<line x1="90.46" y1="403.53" x2="89.42" y2="404.60" stroke="#222" stroke-width="0.55"/>
<line x1="89.31" y1="402.39" x2="88.25" y2="403.45" stroke="#222" stroke-width="0.55"/>
<line x1="88.17" y1="401.23" x2="87.10" y2="402.27" stroke="#222" stroke-width="0.55"/>
<line x1="87.05" y1="400.06" x2="85.96" y2="401.09" stroke="#222" stroke-width="0.55"/>
<line x1="85.95" y1="398.87" x2="84.84" y2="399.88" stroke="#222" stroke-width="0.55"/>
<line x1="84.86" y1="397.66" x2="83.74" y2="398.66" stroke="#222" stroke-width="0.55"/>
<path d="M134.22,430.79A118.2,118.2 0 0 1 83.83,396.80" fill="none" stroke="#555" stroke-width="0.5"/>
<text transform="translate(132.49,435.80) rotate(289.1)" font-size="4.4" fill="#5a5a6a" text-anchor="middle" dominant-baseline="central">0</text>
<text transform="translate(116.87,429.16) rotate(297.0)" font-size="4.4" fill="#5a5a6a" text-anchor="middle" dominant-baseline="central">10</text>
<text transform="translate(102.31,420.44) rotate(304.9)" font-size="4.4" fill="#5a5a6a" text-anchor="middle" dominant-baseline="central">20</text>
<text transform="translate(89.08,409.80) rotate(312.7)" font-size="4.4" fill="#5a5a6a" text-anchor="middle" dominant-baseline="central">30</text>
<line x1="82.91" y1="395.42" x2="81.23" y2="396.84" stroke="#222" stroke-width="0.55"/>
<line x1="81.86" y1="394.18" x2="80.71" y2="395.13" stroke="#222" stroke-width="0.55"/>
<line x1="80.84" y1="392.92" x2="79.67" y2="393.86" stroke="#222" stroke-width="0.55"/>
<line x1="79.83" y1="391.64" x2="78.65" y2="392.57" stroke="#222" stroke-width="0.55"/>
<path d="M82.75,395.55A118.2,118.2 0 0 1 79.38,391.38" fill="none" stroke="#555" stroke-width="0.5"/>
<text transform="translate(78.71,398.98) rotate(319.7)" font-size="4.4" fill="#5a5a6a" text-anchor="middle" dominant-baseline="central">0</text>
<text transform="translate(70.94,404.66) rotate(320.0)" font-size="6.5" fill="#1e1e1e" text-anchor="end" dominant-baseline="central">PIK3R1</text>
<line x1="78.79" y1="390.28" x2="77.03" y2="391.61" stroke="#222" stroke-width="0.55"/>
<line x1="77.82" y1="388.98" x2="76.61" y2="389.87" stroke="#222" stroke-width="0.55"/>
<line x1="76.86" y1="387.66" x2="75.64" y2="388.53" stroke="#222" stroke-width="0.55"/>
<path d="M78.63,390.40A118.2,118.2 0 0 1 75.84,386.56" fill="none" stroke="#555" stroke-width="0.5"/>
<text transform="translate(74.40,393.60) rotate(322.9)" font-size="4.4" fill="#5a5a6a" text-anchor="middle" dominant-baseline="central">0</text>
<text transform="translate(65.19,396.78) rotate(324.2)" font-size="6.5" fill="#1e1e1e" text-anchor="end" dominant-baseline="central">PTEN</text>
<line x1="75.30" y1="385.43" x2="73.48" y2="386.66" stroke="#222" stroke-width="0.55"/>
<line x1="74.40" y1="384.08" x2="73.15" y2="384.90" stroke="#222" stroke-width="0.55"/>
<line x1="73.52" y1="382.72" x2="72.25" y2="383.53" stroke="#222" stroke-width="0.55"/>
<line x1="72.65" y1="381.34" x2="71.38" y2="382.14" stroke="#222" stroke-width="0.55"/>
<line x1="71.81" y1="379.96" x2="70.52" y2="380.73" stroke="#222" stroke-width="0.55"/>
<path d="M75.14,385.54A118.2,118.2 0 0 1 71.48,379.80" fill="none" stroke="#555" stroke-width="0.5"/>
<text transform="translate(70.76,388.52) rotate(325.8)" font-size="4.4" fill="#5a5a6a" text-anchor="middle" dominant-baseline="central">0</text>
<text transform="translate(60.31,388.77) rotate(328.2)" font-size="6.5" fill="#1e1e1e" text-anchor="end" dominant-baseline="central">PTPN11</text>
<line x1="71.02" y1="378.63" x2="69.12" y2="379.74" stroke="#222" stroke-width="0.55"/>
<line x1="70.21" y1="377.23" x2="68.90" y2="377.97" stroke="#222" stroke-width="0.55"/>
<line x1="69.42" y1="375.81" x2="68.11" y2="376.53" stroke="#222" stroke-width="0.55"/>
<line x1="68.65" y1="374.38" x2="67.33" y2="375.08" stroke="#222" stroke-width="0.55"/>
<line x1="67.90" y1="372.94" x2="66.57" y2="373.63" stroke="#222" stroke-width="0.55"/>
<line x1="67.17" y1="371.49" x2="65.83" y2="372.16" stroke="#222" stroke-width="0.55"/>
<line x1="66.46" y1="370.03" x2="65.11" y2="370.68" stroke="#222" stroke-width="0.55"/>
<line x1="65.77" y1="368.57" x2="64.41" y2="369.19" stroke="#222" stroke-width="0.55"/>
<line x1="65.10" y1="367.09" x2="63.73" y2="367.70" stroke="#222" stroke-width="0.55"/>
<line x1="64.45" y1="365.60" x2="63.07" y2="366.19" stroke="#222" stroke-width="0.55"/>
<path d="M70.85,378.74A118.2,118.2 0 0 1 64.18,365.47" fill="none" stroke="#555" stroke-width="0.5"/>
<text transform="translate(66.27,381.41) rotate(329.7)" font-size="4.4" fill="#5a5a6a" text-anchor="middle" dominant-baseline="central">0</text>
<text transform="translate(57.12,377.33) rotate(333.3)" font-size="6.5" fill="#1e1e1e" text-anchor="end" dominant-baseline="central">PTPN2</text>
<line x1="63.80" y1="364.07" x2="61.77" y2="364.90" stroke="#222" stroke-width="0.55"/>
<line x1="63.20" y1="362.56" x2="61.80" y2="363.11" stroke="#222" stroke-width="0.55"/>
<path d="M63.62,364.14A118.2,118.2 0 0 1 62.55,361.46" fill="none" stroke="#555" stroke-width="0.5"/>
<text transform="translate(58.72,366.16) rotate(337.6)" font-size="4.4" fill="#5a5a6a" text-anchor="middle" dominant-baseline="central">0</text>
<text transform="translate(56.05,367.03) rotate(337.7)" font-size="6.5" fill="#1e1e1e" text-anchor="end" dominant-baseline="central">RUNX1</text>
<line x1="62.16" y1="359.85" x2="60.09" y2="360.60" stroke="#222" stroke-width="0.55"/>
<line x1="61.61" y1="358.32" x2="60.19" y2="358.82" stroke="#222" stroke-width="0.55"/>
<line x1="61.08" y1="356.78" x2="59.66" y2="357.26" stroke="#222" stroke-width="0.55"/>
<line x1="60.57" y1="355.24" x2="59.14" y2="355.70" stroke="#222" stroke-width="0.55"/>
<line x1="60.08" y1="353.69" x2="58.65" y2="354.13" stroke="#222" stroke-width="0.55"/>
<line x1="59.62" y1="352.14" x2="58.18" y2="352.56" stroke="#222" stroke-width="0.55"/>
<line x1="59.18" y1="350.58" x2="57.73" y2="350.98" stroke="#222" stroke-width="0.55"/>
<path d="M61.97,359.91A118.2,118.2 0 0 1 58.62,349.29" fill="none" stroke="#555" stroke-width="0.5"/>
<text transform="translate(57.00,361.74) rotate(339.8)" font-size="4.4" fill="#5a5a6a" text-anchor="middle" dominant-baseline="central">0</text>
<text transform="translate(49.30,358.07) rotate(342.5)" font-size="6.5" fill="#1e1e1e" text-anchor="end" dominant-baseline="central">SH2B3</text>
<line x1="58.41" y1="347.65" x2="56.27" y2="348.18" stroke="#222" stroke-width="0.55"/>
<line x1="58.02" y1="346.07" x2="56.56" y2="346.41" stroke="#222" stroke-width="0.55"/>
<line x1="57.66" y1="344.49" x2="56.20" y2="344.81" stroke="#222" stroke-width="0.55"/>
<line x1="57.33" y1="342.90" x2="55.86" y2="343.20" stroke="#222" stroke-width="0.55"/>
<line x1="57.01" y1="341.31" x2="55.54" y2="341.59" stroke="#222" stroke-width="0.55"/>
<line x1="56.71" y1="339.71" x2="55.24" y2="339.97" stroke="#222" stroke-width="0.55"/>
<line x1="56.44" y1="338.11" x2="54.96" y2="338.35" stroke="#222" stroke-width="0.55"/>
<line x1="56.19" y1="336.51" x2="54.71" y2="336.73" stroke="#222" stroke-width="0.55"/>
<line x1="55.96" y1="334.90" x2="54.48" y2="335.10" stroke="#222" stroke-width="0.55"/>
<line x1="55.76" y1="333.29" x2="54.27" y2="333.47" stroke="#222" stroke-width="0.55"/>
<line x1="55.57" y1="331.68" x2="53.39" y2="331.91" stroke="#222" stroke-width="0.55"/>
<line x1="55.41" y1="330.07" x2="53.92" y2="330.20" stroke="#222" stroke-width="0.55"/>
<line x1="55.27" y1="328.45" x2="53.78" y2="328.57" stroke="#222" stroke-width="0.55"/>
<path d="M58.21,347.70A118.2,118.2 0 0 1 54.99,327.35" fill="none" stroke="#555" stroke-width="0.5"/>
<text transform="translate(53.07,348.98) rotate(346.0)" font-size="4.4" fill="#5a5a6a" text-anchor="middle" dominant-baseline="central">0</text>
<text transform="translate(50.10,332.27) rotate(353.9)" font-size="4.4" fill="#5a5a6a" text-anchor="middle" dominant-baseline="central">10</text>
<text transform="translate(44.90,339.37) rotate(351.0)" font-size="6.5" fill="#1e1e1e" text-anchor="end" dominant-baseline="central">SUZ12</text>
<line x1="55.11" y1="326.10" x2="52.91" y2="326.23" stroke="#222" stroke-width="0.55"/>
<line x1="55.02" y1="324.48" x2="53.52" y2="324.55" stroke="#222" stroke-width="0.55"/>
<line x1="54.96" y1="322.86" x2="53.46" y2="322.90" stroke="#222" stroke-width="0.55"/>
<line x1="54.92" y1="321.23" x2="53.42" y2="321.26" stroke="#222" stroke-width="0.55"/>
<line x1="54.90" y1="319.61" x2="53.40" y2="319.62" stroke="#222" stroke-width="0.55"/>
<path d="M54.91,326.11A118.2,118.2 0 0 1 54.70,318.69" fill="none" stroke="#555" stroke-width="0.5"/>
<text transform="translate(49.62,326.42) rotate(356.6)" font-size="4.4" fill="#5a5a6a" text-anchor="middle" dominant-baseline="central">0</text>
<text transform="translate(43.35,322.72) rotate(358.4)" font-size="6.5" fill="#1e1e1e" text-anchor="end" dominant-baseline="central">TET3</text>
<line x1="54.92" y1="317.04" x2="52.72" y2="317.00" stroke="#222" stroke-width="0.55"/>
<line x1="54.96" y1="315.42" x2="53.46" y2="315.37" stroke="#222" stroke-width="0.55"/>
<line x1="55.02" y1="313.80" x2="53.52" y2="313.73" stroke="#222" stroke-width="0.55"/>
<line x1="55.10" y1="312.18" x2="53.61" y2="312.09" stroke="#222" stroke-width="0.55"/>
<line x1="55.21" y1="310.56" x2="53.71" y2="310.45" stroke="#222" stroke-width="0.55"/>
<line x1="55.34" y1="308.94" x2="53.84" y2="308.81" stroke="#222" stroke-width="0.55"/>
<line x1="55.49" y1="307.32" x2="54.00" y2="307.17" stroke="#222" stroke-width="0.55"/>
<line x1="55.66" y1="305.71" x2="54.17" y2="305.54" stroke="#222" stroke-width="0.55"/>
<line x1="55.86" y1="304.10" x2="54.37" y2="303.91" stroke="#222" stroke-width="0.55"/>
<line x1="56.07" y1="302.49" x2="54.59" y2="302.28" stroke="#222" stroke-width="0.55"/>
<line x1="56.31" y1="300.88" x2="54.14" y2="300.55" stroke="#222" stroke-width="0.55"/>
<line x1="56.58" y1="299.28" x2="55.10" y2="299.03" stroke="#222" stroke-width="0.55"/>
<line x1="56.86" y1="297.69" x2="55.38" y2="297.41" stroke="#222" stroke-width="0.55"/>
<line x1="57.16" y1="296.09" x2="55.69" y2="295.80" stroke="#222" stroke-width="0.55"/>
<line x1="57.49" y1="294.50" x2="56.03" y2="294.19" stroke="#222" stroke-width="0.55"/>
<line x1="57.84" y1="292.92" x2="56.38" y2="292.58" stroke="#222" stroke-width="0.55"/>
<line x1="58.21" y1="291.34" x2="56.75" y2="290.98" stroke="#222" stroke-width="0.55"/>
<line x1="58.61" y1="289.76" x2="57.15" y2="289.39" stroke="#222" stroke-width="0.55"/>
<line x1="59.02" y1="288.19" x2="57.57" y2="287.80" stroke="#222" stroke-width="0.55"/>
<line x1="59.46" y1="286.63" x2="58.01" y2="286.22" stroke="#222" stroke-width="0.55"/>
<line x1="59.91" y1="285.07" x2="57.81" y2="284.44" stroke="#222" stroke-width="0.55"/>
<line x1="60.39" y1="283.52" x2="58.96" y2="283.07" stroke="#222" stroke-width="0.55"/>
<line x1="60.89" y1="281.98" x2="59.47" y2="281.51" stroke="#222" stroke-width="0.55"/>
<line x1="61.41" y1="280.44" x2="59.99" y2="279.95" stroke="#222" stroke-width="0.55"/>
<line x1="61.95" y1="278.91" x2="60.54" y2="278.40" stroke="#222" stroke-width="0.55"/>
<line x1="62.52" y1="277.39" x2="61.11" y2="276.86" stroke="#222" stroke-width="0.55"/>
<line x1="63.10" y1="275.88" x2="61.71" y2="275.33" stroke="#222" stroke-width="0.55"/>
<line x1="63.71" y1="274.37" x2="62.32" y2="273.80" stroke="#222" stroke-width="0.55"/>
<line x1="64.33" y1="272.87" x2="62.95" y2="272.28" stroke="#222" stroke-width="0.55"/>
<line x1="64.98" y1="271.38" x2="63.61" y2="270.78" stroke="#222" stroke-width="0.55"/>
<line x1="65.64" y1="269.90" x2="63.64" y2="268.99" stroke="#222" stroke-width="0.55"/>
<line x1="66.33" y1="268.43" x2="64.98" y2="267.79" stroke="#222" stroke-width="0.55"/>
<line x1="67.04" y1="266.97" x2="65.69" y2="266.31" stroke="#222" stroke-width="0.55"/>
<line x1="67.76" y1="265.52" x2="66.43" y2="264.84" stroke="#222" stroke-width="0.55"/>
<line x1="68.51" y1="264.08" x2="67.18" y2="263.38" stroke="#222" stroke-width="0.55"/>
<line x1="69.28" y1="262.65" x2="67.96" y2="261.93" stroke="#222" stroke-width="0.55"/>
<line x1="70.06" y1="261.23" x2="68.76" y2="260.50" stroke="#222" stroke-width="0.55"/>
<line x1="70.87" y1="259.82" x2="69.57" y2="259.07" stroke="#222" stroke-width="0.55"/>
<line x1="71.69" y1="258.42" x2="70.41" y2="257.65" stroke="#222" stroke-width="0.55"/>
<line x1="72.54" y1="257.04" x2="71.26" y2="256.25" stroke="#222" stroke-width="0.55"/>
<line x1="73.40" y1="255.66" x2="71.55" y2="254.48" stroke="#222" stroke-width="0.55"/>
<line x1="74.28" y1="254.30" x2="73.03" y2="253.48" stroke="#222" stroke-width="0.55"/>
<line x1="75.18" y1="252.95" x2="73.94" y2="252.11" stroke="#222" stroke-width="0.55"/>
<line x1="76.10" y1="251.61" x2="74.87" y2="250.76" stroke="#222" stroke-width="0.55"/>
<line x1="77.04" y1="250.29" x2="75.82" y2="249.41" stroke="#222" stroke-width="0.55"/>
<line x1="78.00" y1="248.98" x2="76.79" y2="248.09" stroke="#222" stroke-width="0.55"/>
<line x1="78.97" y1="247.68" x2="77.78" y2="246.77" stroke="#222" stroke-width="0.55"/>
<line x1="79.96" y1="246.39" x2="78.78" y2="245.47" stroke="#222" stroke-width="0.55"/>
<line x1="80.97" y1="245.12" x2="79.80" y2="244.18" stroke="#222" stroke-width="0.55"/>
<line x1="82.00" y1="243.86" x2="80.84" y2="242.91" stroke="#222" stroke-width="0.55"/>
<line x1="83.04" y1="242.62" x2="81.36" y2="241.20" stroke="#222" stroke-width="0.55"/>
<line x1="84.10" y1="241.39" x2="82.97" y2="240.41" stroke="#222" stroke-width="0.55"/>
<line x1="85.18" y1="240.18" x2="84.06" y2="239.18" stroke="#222" stroke-width="0.55"/>
<line x1="86.27" y1="238.98" x2="85.17" y2="237.96" stroke="#222" stroke-width="0.55"/>
<line x1="87.38" y1="237.80" x2="86.29" y2="236.76" stroke="#222" stroke-width="0.55"/>
<line x1="88.51" y1="236.63" x2="87.43" y2="235.58" stroke="#222" stroke-width="0.55"/>
<line x1="89.65" y1="235.48" x2="88.59" y2="234.41" stroke="#222" stroke-width="0.55"/>
<line x1="90.81" y1="234.34" x2="89.76" y2="233.26" stroke="#222" stroke-width="0.55"/>
<line x1="91.98" y1="233.22" x2="90.95" y2="232.13" stroke="#222" stroke-width="0.55"/>
<line x1="93.17" y1="232.11" x2="92.15" y2="231.01" stroke="#222" stroke-width="0.55"/>
<line x1="94.37" y1="231.02" x2="92.91" y2="229.38" stroke="#222" stroke-width="0.55"/>
<line x1="95.59" y1="229.95" x2="94.61" y2="228.82" stroke="#222" stroke-width="0.55"/>
<line x1="96.82" y1="228.90" x2="95.86" y2="227.75" stroke="#222" stroke-width="0.55"/>
<line x1="98.07" y1="227.86" x2="97.12" y2="226.70" stroke="#222" stroke-width="0.55"/>
<line x1="99.33" y1="226.84" x2="98.40" y2="225.67" stroke="#222" stroke-width="0.55"/>
<line x1="100.61" y1="225.84" x2="99.69" y2="224.65" stroke="#222" stroke-width="0.55"/>
<line x1="101.90" y1="224.85" x2="101.00" y2="223.65" stroke="#222" stroke-width="0.55"/>
<line x1="103.20" y1="223.88" x2="102.32" y2="222.67" stroke="#222" stroke-width="0.55"/>
<line x1="104.52" y1="222.93" x2="103.65" y2="221.71" stroke="#222" stroke-width="0.55"/>
<line x1="105.85" y1="222.00" x2="104.99" y2="220.77" stroke="#222" stroke-width="0.55"/>
<line x1="107.19" y1="221.09" x2="105.96" y2="219.26" stroke="#222" stroke-width="0.55"/>
<line x1="108.54" y1="220.20" x2="107.72" y2="218.94" stroke="#222" stroke-width="0.55"/>
<line x1="109.91" y1="219.32" x2="109.11" y2="218.05" stroke="#222" stroke-width="0.55"/>
<line x1="111.29" y1="218.46" x2="110.50" y2="217.18" stroke="#222" stroke-width="0.55"/>
<line x1="112.68" y1="217.62" x2="111.91" y2="216.33" stroke="#222" stroke-width="0.55"/>
<line x1="114.08" y1="216.81" x2="113.33" y2="215.51" stroke="#222" stroke-width="0.55"/>
<line x1="115.49" y1="216.01" x2="114.76" y2="214.70" stroke="#222" stroke-width="0.55"/>
<path d="M54.72,317.04A118.2,118.2 0 0 1 116.68,215.13" fill="none" stroke="#555" stroke-width="0.5"/>
<text transform="translate(49.42,316.94) rotate(361.0)" font-size="4.4" fill="#5a5a6a" text-anchor="middle" dominant-baseline="central">0</text>
<text transform="translate(50.88,300.04) rotate(368.9)" font-size="4.4" fill="#5a5a6a" text-anchor="middle" dominant-baseline="central">10</text>
<text transform="translate(54.65,283.49) rotate(376.8)" font-size="4.4" fill="#5a5a6a" text-anchor="middle" dominant-baseline="central">20</text>
<text transform="translate(60.65,267.61) rotate(384.6)" font-size="4.4" fill="#5a5a6a" text-anchor="middle" dominant-baseline="central">30</text>
<text transform="translate(78.85,239.06) rotate(400.4)" font-size="4.4" fill="#5a5a6a" text-anchor="middle" dominant-baseline="central">50</text>
<text transform="translate(104.13,216.52) rotate(416.2)" font-size="4.4" fill="#5a5a6a" text-anchor="middle" dominant-baseline="central">70</text>
<line x1="118.41" y1="214.43" x2="117.40" y2="212.48" stroke="#222" stroke-width="0.55"/>
<line x1="119.86" y1="213.69" x2="119.18" y2="212.35" stroke="#222" stroke-width="0.55"/>
<line x1="121.31" y1="212.97" x2="120.66" y2="211.62" stroke="#222" stroke-width="0.55"/>
<line x1="122.78" y1="212.27" x2="122.14" y2="210.92" stroke="#222" stroke-width="0.55"/>
<line x1="124.25" y1="211.60" x2="123.63" y2="210.23" stroke="#222" stroke-width="0.55"/>
<line x1="125.73" y1="210.94" x2="125.13" y2="209.56" stroke="#222" stroke-width="0.55"/>
<line x1="127.23" y1="210.30" x2="126.65" y2="208.91" stroke="#222" stroke-width="0.55"/>
<line x1="128.73" y1="209.68" x2="128.17" y2="208.29" stroke="#222" stroke-width="0.55"/>
<line x1="130.24" y1="209.08" x2="129.69" y2="207.68" stroke="#222" stroke-width="0.55"/>
<line x1="131.75" y1="208.51" x2="131.23" y2="207.10" stroke="#222" stroke-width="0.55"/>
<line x1="133.28" y1="207.95" x2="132.54" y2="205.88" stroke="#222" stroke-width="0.55"/>
<path d="M118.32,214.26A118.2,118.2 0 0 1 133.25,207.75" fill="none" stroke="#555" stroke-width="0.5"/>
<text transform="translate(115.87,209.55) rotate(422.5)" font-size="4.4" fill="#5a5a6a" text-anchor="middle" dominant-baseline="central">0</text>
<text transform="translate(131.43,202.77) rotate(430.4)" font-size="4.4" fill="#5a5a6a" text-anchor="middle" dominant-baseline="central">10</text>
<text transform="translate(121.12,200.29) rotate(426.4)" font-size="6.5" fill="#1e1e1e" text-anchor="end" dominant-baseline="central">WT1</text>
<line x1="134.87" y1="207.40" x2="134.16" y2="205.31" stroke="#222" stroke-width="0.55"/>
<line x1="136.41" y1="206.88" x2="135.95" y2="205.46" stroke="#222" stroke-width="0.55"/>
<line x1="137.96" y1="206.39" x2="137.52" y2="204.96" stroke="#222" stroke-width="0.55"/>
<line x1="139.51" y1="205.92" x2="139.09" y2="204.48" stroke="#222" stroke-width="0.55"/>
<line x1="141.07" y1="205.47" x2="140.67" y2="204.03" stroke="#222" stroke-width="0.55"/>
<line x1="142.64" y1="205.05" x2="142.25" y2="203.60" stroke="#222" stroke-width="0.55"/>
<line x1="144.21" y1="204.64" x2="143.84" y2="203.19" stroke="#222" stroke-width="0.55"/>
<line x1="145.79" y1="204.26" x2="145.44" y2="202.80" stroke="#222" stroke-width="0.55"/>
<line x1="147.37" y1="203.90" x2="147.04" y2="202.43" stroke="#222" stroke-width="0.55"/>
<line x1="148.95" y1="203.56" x2="148.65" y2="202.09" stroke="#222" stroke-width="0.55"/>
<line x1="150.55" y1="203.24" x2="150.13" y2="201.08" stroke="#222" stroke-width="0.55"/>
<line x1="152.14" y1="202.94" x2="151.88" y2="201.46" stroke="#222" stroke-width="0.55"/>
<line x1="153.74" y1="202.67" x2="153.50" y2="201.19" stroke="#222" stroke-width="0.55"/>
<path d="M134.81,207.21A118.2,118.2 0 0 1 154.41,202.36" fill="none" stroke="#555" stroke-width="0.5"/>
<text transform="translate(133.10,202.19) rotate(431.2)" font-size="4.4" fill="#5a5a6a" text-anchor="middle" dominant-baseline="central">0</text>
<text transform="translate(149.50,197.84) rotate(439.1)" font-size="4.4" fill="#5a5a6a" text-anchor="middle" dominant-baseline="central">10</text>
<text transform="translate(141.77,193.30) rotate(436.1)" font-size="6.5" fill="#1e1e1e" text-anchor="end" dominant-baseline="central">BCL11B</text>
<line x1="155.87" y1="202.34" x2="155.55" y2="200.16" stroke="#222" stroke-width="0.55"/>
<line x1="157.47" y1="202.11" x2="157.28" y2="200.63" stroke="#222" stroke-width="0.55"/>
<line x1="159.08" y1="201.91" x2="158.91" y2="200.42" stroke="#222" stroke-width="0.55"/>
<line x1="160.70" y1="201.73" x2="160.54" y2="200.24" stroke="#222" stroke-width="0.55"/>
<line x1="162.31" y1="201.58" x2="162.18" y2="200.08" stroke="#222" stroke-width="0.55"/>
<path d="M155.84,202.14A118.2,118.2 0 0 1 163.21,201.30" fill="none" stroke="#555" stroke-width="0.5"/>
<text transform="translate(155.07,196.89) rotate(441.7)" font-size="4.4" fill="#5a5a6a" text-anchor="middle" dominant-baseline="central">0</text>
<text transform="translate(158.23,190.33) rotate(443.5)" font-size="6.5" fill="#1e1e1e" text-anchor="end" dominant-baseline="central">EED</text>
<line x1="164.46" y1="201.40" x2="164.31" y2="199.21" stroke="#222" stroke-width="0.55"/>
<line x1="166.08" y1="201.30" x2="166.00" y2="199.80" stroke="#222" stroke-width="0.55"/>
<line x1="167.70" y1="201.21" x2="167.64" y2="199.72" stroke="#222" stroke-width="0.55"/>
<line x1="169.33" y1="201.15" x2="169.28" y2="199.65" stroke="#222" stroke-width="0.55"/>
<line x1="170.95" y1="201.12" x2="170.92" y2="199.62" stroke="#222" stroke-width="0.55"/>
<path d="M164.45,201.20A118.2,118.2 0 0 1 171.87,200.90" fill="none" stroke="#555" stroke-width="0.5"/>
<text transform="translate(164.07,195.92) rotate(445.9)" font-size="4.4" fill="#5a5a6a" text-anchor="middle" dominant-baseline="central">0</text>
<text transform="translate(167.70,189.60) rotate(447.7)" font-size="6.5" fill="#1e1e1e" text-anchor="end" dominant-baseline="central">IL7R</text>
<rect x="0" y="229" width="51.3" height="24.80000000000001" rx="12.400000000000006" fill="#b8b2de"/>
<text x="19" y="243.90" font-size="6.8" fill="#33334a" textLength="14.4" lengthAdjust="spacingAndGlyphs">TP53</text>
<text x="12.7" y="266.5" font-size="6.4" fill="#333" textLength="25.3" lengthAdjust="spacingAndGlyphs">21 T-ALL</text>
<rect x="220.2" y="182.5" width="47.10000000000002" height="19.19999999999999" rx="9.599999999999994" fill="#cfe2f3"/>
<text x="230.8" y="194.60" font-size="6.8" fill="#33334a" textLength="26.9" lengthAdjust="spacingAndGlyphs">CDKN2A</text>
<text x="238.5" y="208.6" font-size="6.4" fill="#333" textLength="35.5" lengthAdjust="spacingAndGlyphs">13/21 (62%)</text>
<rect x="298.5" y="291.5" width="36.10000000000002" height="13.899999999999977" rx="6.949999999999989" fill="#cfe0f2"/>
<text x="305.4" y="300.95" font-size="6.8" fill="#33334a" textLength="23.1" lengthAdjust="spacingAndGlyphs">FBXW7</text>
<text x="313.8" y="315.3" font-size="6.4" fill="#333" textLength="32.4" lengthAdjust="spacingAndGlyphs">4/21 (19%)</text>
<rect x="305.4" y="327.7" width="29.200000000000045" height="13.800000000000011" rx="6.900000000000006" fill="#c8dcd8"/>
<text x="313" y="337.10" font-size="6.8" fill="#33334a" textLength="16.2" lengthAdjust="spacingAndGlyphs">JAK3</text>
<text x="313.8" y="352.3" font-size="6.4" fill="#333" textLength="32.4" lengthAdjust="spacingAndGlyphs">4/21 (19%)</text>
<rect x="279.2" y="386" width="29.30000000000001" height="14.800000000000011" rx="7.400000000000006" fill="#c6d6c1"/>
<text x="286.2" y="395.90" font-size="6.8" fill="#33334a" textLength="15.3" lengthAdjust="spacingAndGlyphs">LEF1</text>
<text x="290.8" y="410.8" font-size="6.4" fill="#333" textLength="32.2" lengthAdjust="spacingAndGlyphs">5/21 (24%)</text>
<rect x="70" y="423" width="33.8" height="13.199999999999989" rx="6.599999999999994" fill="#f2c4c8"/>
<text x="79.2" y="432.10" font-size="6.8" fill="#33334a" textLength="16.2" lengthAdjust="spacingAndGlyphs">PHF6</text>
<text x="80" y="446" font-size="6.4" fill="#333" textLength="32.3" lengthAdjust="spacingAndGlyphs">8/21 (38%)</text>
<rect x="125.6" y="446.4" width="32.80000000000001" height="12.100000000000023" rx="6.050000000000011" fill="#f6cdb8"/>
<text x="131.5" y="454.95" font-size="6.8" fill="#33334a" textLength="19.3" lengthAdjust="spacingAndGlyphs">NRAS</text>
<text x="134.9" y="468.4" font-size="6.4" fill="#333" textLength="31.1" lengthAdjust="spacingAndGlyphs">4/21 (19%)</text>
<rect x="195.8" y="445.4" width="46.39999999999998" height="13.800000000000011" rx="6.900000000000006" fill="#f6cdb8"/>
<text x="205.2" y="454.80" font-size="6.8" fill="#33334a" textLength="27.6" lengthAdjust="spacingAndGlyphs">NOTCH1</text>
<text x="210.3" y="468.4" font-size="6.4" fill="#333" textLength="35.3" lengthAdjust="spacingAndGlyphs">12/21 (57%)</text>
<text x="0.4" y="495" font-size="11.2" font-weight="bold" fill="#111">D</text>
<text x="120" y="501.6" font-size="8.73" fill="#222" text-anchor="middle">Overall Survival according to <tspan font-style="italic">TP53</tspan> status</text>
<path d="M44.5 509.5 V615.5 H198" fill="none" stroke="#333" stroke-width="1"/>
<line x1="40.6" y1="611.1" x2="44.5" y2="611.1" stroke="#333" stroke-width="0.8"/>
<text x="38.4" y="613.5" font-size="6.7" fill="#333" text-anchor="end">0.00</text>
<line x1="40.6" y1="591.4" x2="44.5" y2="591.4" stroke="#333" stroke-width="0.8"/>
<text x="38.4" y="593.8" font-size="6.7" fill="#333" text-anchor="end">0.20</text>
<line x1="40.6" y1="571.6" x2="44.5" y2="571.6" stroke="#333" stroke-width="0.8"/>
<text x="38.4" y="574.0" font-size="6.7" fill="#333" text-anchor="end">0.40</text>
<line x1="40.6" y1="551.9" x2="44.5" y2="551.9" stroke="#333" stroke-width="0.8"/>
<text x="38.4" y="554.3" font-size="6.7" fill="#333" text-anchor="end">0.60</text>
<line x1="40.6" y1="532.1" x2="44.5" y2="532.1" stroke="#333" stroke-width="0.8"/>
<text x="38.4" y="534.5" font-size="6.7" fill="#333" text-anchor="end">0.80</text>
<line x1="40.6" y1="512.4" x2="44.5" y2="512.4" stroke="#333" stroke-width="0.8"/>
<text x="38.4" y="514.8" font-size="6.7" fill="#333" text-anchor="end">1.00</text>
<line x1="48.0" y1="615.5" x2="48.0" y2="618.3" stroke="#333" stroke-width="0.8"/>
<text x="48.0" y="628.6" font-size="6.5" fill="#333" text-anchor="middle">0</text>
<line x1="69.0" y1="615.5" x2="69.0" y2="618.3" stroke="#333" stroke-width="0.8"/>
<text x="69.0" y="628.6" font-size="6.5" fill="#333" text-anchor="middle">1</text>
<line x1="90.0" y1="615.5" x2="90.0" y2="618.3" stroke="#333" stroke-width="0.8"/>
<text x="90.0" y="628.6" font-size="6.5" fill="#333" text-anchor="middle">2</text>
<line x1="111.0" y1="615.5" x2="111.0" y2="618.3" stroke="#333" stroke-width="0.8"/>
<text x="111.0" y="628.6" font-size="6.5" fill="#333" text-anchor="middle">3</text>
<line x1="132.0" y1="615.5" x2="132.0" y2="618.3" stroke="#333" stroke-width="0.8"/>
<text x="132.0" y="628.6" font-size="6.5" fill="#333" text-anchor="middle">4</text>
<line x1="153.0" y1="615.5" x2="153.0" y2="618.3" stroke="#333" stroke-width="0.8"/>
<text x="153.0" y="628.6" font-size="6.5" fill="#333" text-anchor="middle">5</text>
<line x1="174.0" y1="615.5" x2="174.0" y2="618.3" stroke="#333" stroke-width="0.8"/>
<text x="174.0" y="628.6" font-size="6.5" fill="#333" text-anchor="middle">6</text>
<line x1="195.0" y1="615.5" x2="195.0" y2="618.3" stroke="#333" stroke-width="0.8"/>
<text x="195.0" y="628.6" font-size="6.5" fill="#333" text-anchor="middle">7</text>
<text x="121.2" y="639.2" font-size="8.8" fill="#333" text-anchor="middle" textLength="36.3" lengthAdjust="spacingAndGlyphs">Time (years)</text>
<text transform="translate(19.3,561.8) rotate(-90)" font-size="7.8" fill="#333" text-anchor="middle" textLength="46.2" lengthAdjust="spacingAndGlyphs">Overall survival</text>
<text x="192" y="609.8" font-size="6.4" fill="#333" text-anchor="end"><tspan font-style="italic">P</tspan> = .005</text>
<polyline points="48,512 48.5,512 48.5,525.8 56.2,525.8 56.2,536.5 64.6,536.5 64.6,541.9 73.1,541.9 73.1,546.8 85.4,546.8 85.4,552.7 87.7,552.7 87.7,563.2 110.8,563.2 110.8,568.1 160.7,568.1 160.7,575.8 195.3,575.8" fill="none" stroke="#c4233d" stroke-width="1.2"/>
<polyline points="48,512.5 50.9,514.8 53.2,514.6 55.5,516.8 57.8,519.8 60.5,523.7 64,524.8 67.1,526.8 70.9,528.3 74.8,530.6 77.8,532.5 84,534.8 89,536.8 95.4,539.2 98.6,540.8 105,541.5 111.7,541.8 120,542.2 128,542.5 145,543 160.7,543.6 180,544.3 195.3,544.9" fill="none" stroke="#1c4c80" stroke-width="2.0" stroke-linejoin="round"/>
<path d="M52.00,513.44V515.00M53.76,513.70V515.44M55.60,515.17V517.23M56.71,517.40V518.68M58.87,520.05V521.64M60.21,521.04V523.58M61.87,522.10V524.43M63.54,522.88V524.95M64.76,523.52V525.59M66.96,525.08V527.01M68.99,525.73V527.85M70.10,526.05V528.28M71.92,527.56V529.20M72.98,527.46V529.83M74.65,528.63V530.81M76.86,530.03V532.20M79.13,531.53V533.29M81.24,532.25V534.08M83.53,532.54V534.93M84.69,533.94V535.37M86.00,533.41V535.90M87.62,534.48V536.55M89.04,535.21V537.12M90.59,535.99V537.70M92.41,536.37V538.38M94.66,537.09V539.22M96.94,537.91V540.27M99.31,539.06V541.18M100.55,538.95V541.31M102.88,539.15V541.57M104.67,539.59V541.76M105.98,539.52V541.84M107.78,540.30V541.92M108.89,539.62V541.97M111.25,540.71V542.08M113.36,540.39V542.18M114.59,540.60V542.24M116.65,539.96V542.34M117.73,540.34V542.39M118.81,540.26V542.44M120.28,540.12V542.51M122.64,540.69V542.60M125.02,541.03V542.69M126.14,540.70V542.73M127.20,541.26V542.77M128.78,540.78V542.82M130.01,541.54V542.86M132.21,541.26V542.92M134.53,540.58V542.99M136.07,541.19V543.04M137.80,541.00V543.09M139.63,541.17V543.14M141.49,540.73V543.20M143.20,541.44V543.25M145.20,541.74V543.31M146.63,540.85V543.36M148.36,541.47V543.43M149.39,541.68V543.47M151.20,542.25V543.54M153.06,541.54V543.61M154.16,541.59V543.65M155.81,541.58V543.71M157.31,541.61V543.77M159.34,542.56V543.85M160.44,541.76V543.89M162.77,542.39V543.98M164.41,542.02V544.03M165.87,542.36V544.09M167.31,542.41V544.14M169.14,542.56V544.21M170.67,542.01V544.26M171.73,542.31V544.30M173.75,542.72V544.37M175.07,542.13V544.42M176.42,542.97V544.47M178.03,542.38V544.53M179.19,542.90V544.57M180.66,542.30V544.63M182.28,542.33V544.69M183.53,543.05V544.74M185.43,542.42V544.81M187.07,543.33V544.88M188.25,542.99V544.92M189.53,542.68V544.97M191.69,543.56V545.06M193.09,542.82V545.11M194.98,542.90V545.19" stroke="#1c4c80" stroke-width="0.6" fill="none"/>
<line x1="145.4" y1="566.3000000000001" x2="145.4" y2="568.1" stroke="#c4233d" stroke-width="0.7"/>
<line x1="148.5" y1="566.3000000000001" x2="148.5" y2="568.1" stroke="#c4233d" stroke-width="0.7"/>
<line x1="170" y1="574.0" x2="170" y2="575.8" stroke="#c4233d" stroke-width="0.7"/>
<line x1="172.3" y1="574.0" x2="172.3" y2="575.8" stroke="#c4233d" stroke-width="0.7"/>
<text x="12" y="650.4" font-size="6.6" fill="#333">Number at risk</text>
<text x="12" y="660" font-size="6.6" fill="#3d7fc1">TP53<tspan font-size="4.2" dy="-2.6">WT</tspan></text>
<text x="12" y="669.5" font-size="6.6" fill="#d23a4e">TP53<tspan font-size="4.2" dy="-2.6">Alt</tspan></text>
<text x="48.0" y="660" font-size="6.4" fill="#333" text-anchor="middle">455</text>
<text x="48.0" y="669.5" font-size="6.4" fill="#333" text-anchor="middle">21</text>
<text x="69.0" y="660" font-size="6.4" fill="#333" text-anchor="middle">318</text>
<text x="69.0" y="669.5" font-size="6.4" fill="#333" text-anchor="middle">13</text>
<text x="90.0" y="660" font-size="6.4" fill="#333" text-anchor="middle">270</text>
<text x="90.0" y="669.5" font-size="6.4" fill="#333" text-anchor="middle">9</text>
<text x="111.0" y="660" font-size="6.4" fill="#333" text-anchor="middle">238</text>
<text x="111.0" y="669.5" font-size="6.4" fill="#333" text-anchor="middle">9</text>
<text x="132.0" y="660" font-size="6.4" fill="#333" text-anchor="middle">201</text>
<text x="132.0" y="669.5" font-size="6.4" fill="#333" text-anchor="middle">8</text>
<text x="153.0" y="660" font-size="6.4" fill="#333" text-anchor="middle">166</text>
<text x="153.0" y="669.5" font-size="6.4" fill="#333" text-anchor="middle">6</text>
<text x="174.0" y="660" font-size="6.4" fill="#333" text-anchor="middle">112</text>
<text x="174.0" y="669.5" font-size="6.4" fill="#333" text-anchor="middle">3</text>
<text x="195.0" y="660" font-size="6.4" fill="#333" text-anchor="middle">80</text>
<text x="195.0" y="669.5" font-size="6.4" fill="#333" text-anchor="middle">3</text>
<text x="234.3" y="494.6" font-size="11" font-weight="bold" fill="#111">E</text>
<text x="364.3" y="497.4" font-size="8.83" fill="#222" text-anchor="middle">Cumulative incidence of relapse</text>
<text x="364.3" y="508.4" font-size="8.77" fill="#222" text-anchor="middle">according to <tspan font-style="italic">TP53</tspan> status</text>
<path d="M277 505 V615.9 H451" fill="none" stroke="#333" stroke-width="1"/>
<line x1="273.2" y1="610.8" x2="277" y2="610.8" stroke="#333" stroke-width="0.8"/>
<text x="271.4" y="613.2" font-size="6.7" fill="#333" text-anchor="end">0.00</text>
<line x1="273.2" y1="590.3" x2="277" y2="590.3" stroke="#333" stroke-width="0.8"/>
<text x="271.4" y="592.7" font-size="6.7" fill="#333" text-anchor="end">0.20</text>
<line x1="273.2" y1="569.7" x2="277" y2="569.7" stroke="#333" stroke-width="0.8"/>
<text x="271.4" y="572.1" font-size="6.7" fill="#333" text-anchor="end">0.40</text>
<line x1="273.2" y1="549.2" x2="277" y2="549.2" stroke="#333" stroke-width="0.8"/>
<text x="271.4" y="551.6" font-size="6.7" fill="#333" text-anchor="end">0.60</text>
<line x1="273.2" y1="528.6" x2="277" y2="528.6" stroke="#333" stroke-width="0.8"/>
<text x="271.4" y="531.0" font-size="6.7" fill="#333" text-anchor="end">0.80</text>
<line x1="273.2" y1="508.1" x2="277" y2="508.1" stroke="#333" stroke-width="0.8"/>
<text x="271.4" y="510.5" font-size="6.7" fill="#333" text-anchor="end">1.00</text>
<line x1="280.0" y1="615.9" x2="280.0" y2="618.7" stroke="#333" stroke-width="0.8"/>
<text x="280.0" y="628.5" font-size="6.5" fill="#333" text-anchor="middle">0</text>
<line x1="303.9" y1="615.9" x2="303.9" y2="618.7" stroke="#333" stroke-width="0.8"/>
<text x="303.9" y="628.5" font-size="6.5" fill="#333" text-anchor="middle">1</text>
<line x1="327.9" y1="615.9" x2="327.9" y2="618.7" stroke="#333" stroke-width="0.8"/>
<text x="327.9" y="628.5" font-size="6.5" fill="#333" text-anchor="middle">2</text>
<line x1="351.8" y1="615.9" x2="351.8" y2="618.7" stroke="#333" stroke-width="0.8"/>
<text x="351.8" y="628.5" font-size="6.5" fill="#333" text-anchor="middle">3</text>
<line x1="375.7" y1="615.9" x2="375.7" y2="618.7" stroke="#333" stroke-width="0.8"/>
<text x="375.7" y="628.5" font-size="6.5" fill="#333" text-anchor="middle">4</text>
<line x1="399.6" y1="615.9" x2="399.6" y2="618.7" stroke="#333" stroke-width="0.8"/>
<text x="399.6" y="628.5" font-size="6.5" fill="#333" text-anchor="middle">5</text>
<line x1="423.6" y1="615.9" x2="423.6" y2="618.7" stroke="#333" stroke-width="0.8"/>
<text x="423.6" y="628.5" font-size="6.5" fill="#333" text-anchor="middle">6</text>
<line x1="447.5" y1="615.9" x2="447.5" y2="618.7" stroke="#333" stroke-width="0.8"/>
<text x="447.5" y="628.5" font-size="6.5" fill="#333" text-anchor="middle">7</text>
<text x="364.8" y="639.2" font-size="8.8" fill="#333" text-anchor="middle" textLength="36.6" lengthAdjust="spacingAndGlyphs">Time (years)</text>
<text transform="translate(252.6,559.4) rotate(-90)" font-size="7.8" fill="#333" text-anchor="middle" textLength="97.3" lengthAdjust="spacingAndGlyphs">Cumulative incidence of relapse</text>
<text x="445" y="608.8" font-size="6.4" fill="#333" text-anchor="end"><tspan font-style="italic">P</tspan> &lt; .001</text>
<polyline points="281.1,611 292.5,611 292.5,599.3 296.3,599.3 296.3,593.1 300.6,593.1 300.6,581.4 301.2,581.4 301.2,575.1 303.9,575.1 303.9,568.6 310.7,568.6 310.7,556.5 318.1,556.5 318.1,550.5 322.4,550.5 322.4,544.4 448,544.4" fill="none" stroke="#c4233d" stroke-width="1.2"/>
<polyline points="281.1,611 288.5,607.7 295.2,605 301.9,599.6 308.6,594.2 315.4,590.2 322.1,587.5 328.8,585.7 335.6,584.9 345,584.3 360,583.7 376,583.1 390,582.4 405,581.6 420,580.9 448,580.6" fill="none" stroke="#1c4c80" stroke-width="2.0" stroke-linejoin="round"/>
<path d="M300.00,600.01V601.43M301.42,598.01V600.29M302.81,597.47V599.17M304.39,596.09V597.89M305.97,594.18V596.62M307.20,594.36V595.63M309.50,591.58V593.97M311.87,590.76V592.58M314.18,588.77V591.22M315.50,588.24V590.46M317.66,587.48V589.59M319.39,587.26V588.89M320.87,586.74V588.30M321.98,585.83V587.85M323.39,585.16V587.45M324.47,584.75V587.16M326.44,584.19V586.63M328.68,583.62V586.03M330.48,584.53V585.80M332.51,584.08V585.56M333.94,583.29V585.40M335.68,583.41V585.20M337.97,583.00V585.05M339.46,583.37V584.95M341.65,582.94V584.81M343.73,582.97V584.68M345.02,582.65V584.60M347.15,583.03V584.51M349.25,581.99V584.43M351.37,582.03V584.35M352.40,582.24V584.30M354.59,582.89V584.22M355.98,582.56V584.16M357.71,582.29V584.09M359.38,581.77V584.02M360.40,582.65V583.98M361.59,582.52V583.94M362.71,581.39V583.90M364.89,582.45V583.82M366.59,582.09V583.75M368.04,581.99V583.70M369.94,581.62V583.63M371.45,582.07V583.57M372.92,582.10V583.52M374.69,581.27V583.45M376.23,582.03V583.39M377.49,581.59V583.33M379.33,580.97V583.23M380.87,580.87V583.16M382.74,581.25V583.06M384.26,581.09V582.99M386.24,581.09V582.89M388.20,580.94V582.79M389.56,580.78V582.72M391.52,581.27V582.62M393.12,580.73V582.53M395.34,579.96V582.42M396.87,579.92V582.33M398.96,580.63V582.22M400.61,580.72V582.13M402.74,579.91V582.02M404.97,579.63V581.90M406.89,579.61V581.81M408.68,580.34V581.73M410.50,580.38V581.64M411.72,579.34V581.59M412.80,580.16V581.54M413.95,579.10V581.48M415.21,580.13V581.42M417.38,579.91V581.32M419.55,579.10V581.22M421.70,578.70V581.18M423.51,578.88V581.16M424.58,578.91V581.15M426.30,578.96V581.13M427.46,578.90V581.12M429.75,579.76V581.10M431.21,579.10V581.08M433.36,579.49V581.06M434.62,579.46V581.04M436.48,578.80V581.02M438.04,579.28V581.01M439.60,579.28V580.99M441.19,579.61V580.97M442.89,578.45V580.95M444.47,578.72V580.94M445.71,578.78V580.92M447.75,578.78V580.90" stroke="#1c4c80" stroke-width="0.6" fill="none"/>
<line x1="389.6" y1="542.6" x2="389.6" y2="544.4" stroke="#c4233d" stroke-width="0.7"/>
<line x1="416.6" y1="542.6" x2="416.6" y2="544.4" stroke="#c4233d" stroke-width="0.7"/>
<line x1="418.9" y1="542.6" x2="418.9" y2="544.4" stroke="#c4233d" stroke-width="0.7"/>
<line x1="447.6" y1="542.6" x2="447.6" y2="544.4" stroke="#c4233d" stroke-width="0.7"/>
<text x="245.2" y="649.8" font-size="6.6" fill="#333">Number at risk</text>
<text x="245" y="660" font-size="6.6" fill="#3a73b8">TP53<tspan font-size="4.2" dy="-2.6">WT</tspan></text>
<text x="245" y="669.5" font-size="6.6" fill="#cc3a50">TP53<tspan font-size="4.2" dy="-2.6">Alt</tspan></text>
<text x="280.0" y="660" font-size="6.4" fill="#333" text-anchor="middle">423</text>
<text x="280.0" y="669.5" font-size="6.4" fill="#333" text-anchor="middle">17</text>
<text x="303.9" y="660" font-size="6.4" fill="#333" text-anchor="middle">362</text>
<text x="303.9" y="669.5" font-size="6.4" fill="#333" text-anchor="middle">10</text>
<text x="327.9" y="660" font-size="6.4" fill="#333" text-anchor="middle">309</text>
<text x="327.9" y="669.5" font-size="6.4" fill="#333" text-anchor="middle">6</text>
<text x="351.8" y="660" font-size="6.4" fill="#333" text-anchor="middle">283</text>
<text x="351.8" y="669.5" font-size="6.4" fill="#333" text-anchor="middle">6</text>
<text x="375.7" y="660" font-size="6.4" fill="#333" text-anchor="middle">243</text>
<text x="375.7" y="669.5" font-size="6.4" fill="#333" text-anchor="middle">6</text>
<text x="399.6" y="660" font-size="6.4" fill="#333" text-anchor="middle">195</text>
<text x="399.6" y="669.5" font-size="6.4" fill="#333" text-anchor="middle">5</text>
<text x="423.6" y="660" font-size="6.4" fill="#333" text-anchor="middle">140</text>
<text x="423.6" y="669.5" font-size="6.4" fill="#333" text-anchor="middle">2</text>
<text x="447.5" y="660" font-size="6.4" fill="#333" text-anchor="middle">100</text>
<text x="447.5" y="669.5" font-size="6.4" fill="#333" text-anchor="middle">2</text>
</svg>
</body></html>
